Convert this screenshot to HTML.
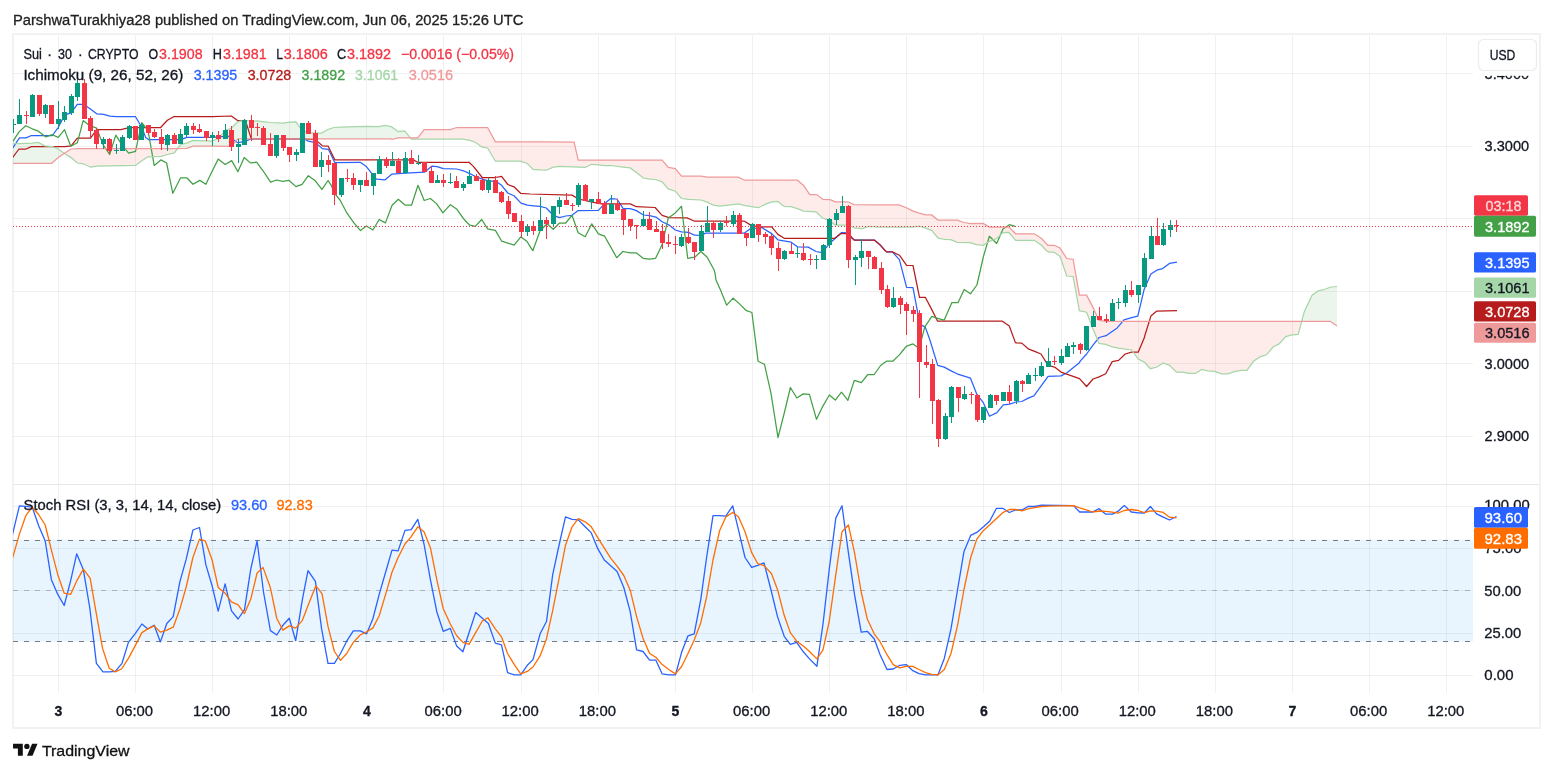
<!DOCTYPE html>
<html lang="en"><head><meta charset="utf-8"><title>Sui chart - TradingView</title>
<style>html,body{margin:0;padding:0;background:#fff}body{width:1553px;height:772px;position:relative;overflow:hidden;font-family:"Liberation Sans",sans-serif}</style></head>
<body>
<svg width="1553" height="772" viewBox="0 0 1553 772" style="position:absolute;left:0;top:0">
<defs><clipPath id="cm"><rect x="13" y="35" width="1460" height="449"/></clipPath><clipPath id="cs"><rect x="13" y="485" width="1460" height="208"/></clipPath></defs>
<rect x="13" y="34" width="1527" height="694" fill="#fff" stroke="#f2f2f2" stroke-width="2"/>
<path d="M58.5,35V693 M135.5,35V693 M212.5,35V693 M289.5,35V693 M366.5,35V693 M443.5,35V693 M521.5,35V693 M598.5,35V693 M675.5,35V693 M752.5,35V693 M829.5,35V693 M906.5,35V693 M983.5,35V693 M1061.5,35V693 M1138.5,35V693 M1215.5,35V693 M1292.5,35V693 M1369.5,35V693 M1446.5,35V693" stroke="rgba(20,20,20,0.058)" stroke-width="1" fill="none" shape-rendering="crispEdges"/>
<path d="M13,73.5H1473 M13,146.5H1473 M13,218.5H1473 M13,291.5H1473 M13,363.5H1473 M13,436.5H1473 M13,506.5H1473 M13,548.5H1473 M13,590.5H1473 M13,633.5H1473 M13,675.5H1473" stroke="rgba(20,20,20,0.058)" stroke-width="1" fill="none" shape-rendering="crispEdges"/>
<rect x="14" y="484" width="1525" height="1" fill="#e6e6e6"/>
<g clip-path="url(#cm)">
<path d="M12.0,143.6 L13.0,143.6 L14.0,143.6 L15.0,143.6 L16.0,143.6 L17.0,143.6 L18.0,143.6 L19.0,143.6 L20.0,143.6 L21.0,143.5 L22.0,143.5 L23.0,143.5 L24.0,143.4 L25.0,143.4 L26.0,143.4 L27.0,143.3 L28.0,143.3 L29.0,143.2 L30.0,143.2 L31.0,143.2 L32.0,143.1 L33.0,143.0 L34.0,142.9 L35.0,142.8 L36.0,142.7 L37.0,142.5 L38.0,142.4 L39.0,142.7 L40.0,143.3 L41.0,143.8 L42.0,144.4 L43.0,145.0 L44.0,145.6 L45.0,146.0 L46.0,146.1 L47.0,146.2 L48.0,146.3 L49.0,146.4 L50.0,146.5 L51.0,146.6 L52.0,146.7 L53.0,146.9 L54.0,147.3 L55.0,147.7 L56.0,148.1 L57.0,148.5 L58.0,148.9 L59.0,149.5 L60.0,150.2 L61.0,151.0 L62.0,151.7 L63.0,152.4 L64.0,153.1 L64.0,153.5 L63.0,154.2 L62.0,154.9 L61.0,155.7 L60.0,156.4 L59.0,157.1 L58.0,157.9 L57.0,158.7 L56.0,159.6 L55.0,160.4 L54.0,161.3 L53.0,162.2 L52.0,163.0 L51.0,163.3 L50.0,163.3 L49.0,163.3 L48.0,163.3 L47.0,163.3 L46.0,163.3 L45.0,163.3 L44.0,163.3 L43.0,163.3 L42.0,163.3 L41.0,163.3 L40.0,163.3 L39.0,163.3 L38.0,163.3 L37.0,163.3 L36.0,163.3 L35.0,163.3 L34.0,163.3 L33.0,163.3 L32.0,163.3 L31.0,163.3 L30.0,163.3 L29.0,163.3 L28.0,163.3 L27.0,163.3 L26.0,163.3 L25.0,163.3 L24.0,163.3 L23.0,163.3 L22.0,163.3 L21.0,163.3 L20.0,163.3 L19.0,163.3 L18.0,163.3 L17.0,163.3 L16.0,163.3 L15.0,163.3 L14.0,163.3 L13.0,163.3 L12.0,163.3Z" fill="rgba(67,160,71,0.1)" stroke="none"/>
<path d="M64.0,153.1 L65.0,153.8 L66.0,154.4 L67.0,155.1 L68.0,155.7 L69.0,156.3 L70.0,156.9 L71.0,157.6 L72.0,158.4 L73.0,159.3 L74.0,160.2 L75.0,161.0 L76.0,161.9 L77.0,162.8 L78.0,163.1 L79.0,163.2 L80.0,163.4 L81.0,163.5 L82.0,163.6 L83.0,163.7 L84.0,164.1 L85.0,164.5 L86.0,165.0 L87.0,165.5 L88.0,166.0 L89.0,166.5 L90.0,167.0 L91.0,167.1 L92.0,167.0 L93.0,166.8 L94.0,166.6 L95.0,166.4 L96.0,166.3 L97.0,166.1 L98.0,166.1 L99.0,166.1 L100.0,166.1 L101.0,166.0 L102.0,166.0 L103.0,166.0 L104.0,166.0 L105.0,166.0 L106.0,165.9 L107.0,165.9 L108.0,165.9 L109.0,165.9 L110.0,165.9 L111.0,165.8 L112.0,165.8 L113.0,165.8 L114.0,165.8 L115.0,165.8 L116.0,165.7 L117.0,165.7 L118.0,165.7 L119.0,165.7 L120.0,165.7 L121.0,165.6 L122.0,165.6 L123.0,165.6 L124.0,165.6 L125.0,165.6 L126.0,165.5 L127.0,165.5 L128.0,165.5 L129.0,165.5 L130.0,165.5 L131.0,165.4 L132.0,165.4 L133.0,165.4 L134.0,165.4 L135.0,165.4 L136.0,165.0 L137.0,164.3 L138.0,163.5 L139.0,162.8 L140.0,162.0 L141.0,161.3 L142.0,160.5 L143.0,159.9 L144.0,159.3 L145.0,158.7 L146.0,158.0 L147.0,157.4 L148.0,156.8 L149.0,156.8 L150.0,156.7 L151.0,156.7 L152.0,156.7 L153.0,156.6 L154.0,156.6 L155.0,156.6 L156.0,156.5 L157.0,156.5 L158.0,156.5 L159.0,156.4 L160.0,156.4 L161.0,156.3 L162.0,156.1 L163.0,155.8 L164.0,155.5 L165.0,155.2 L166.0,154.9 L167.0,154.6 L168.0,154.3 L169.0,154.1 L170.0,153.9 L171.0,153.7 L172.0,153.5 L173.0,153.2 L174.0,153.0 L175.0,152.1 L176.0,150.7 L177.0,149.3 L177.0,148.6 L176.0,148.6 L175.0,148.7 L174.0,148.7 L173.0,148.7 L172.0,148.7 L171.0,148.7 L170.0,148.7 L169.0,148.7 L168.0,148.7 L167.0,148.7 L166.0,148.7 L165.0,148.7 L164.0,148.7 L163.0,148.7 L162.0,148.7 L161.0,148.7 L160.0,148.7 L159.0,148.7 L158.0,148.7 L157.0,148.7 L156.0,148.7 L155.0,148.7 L154.0,148.7 L153.0,148.7 L152.0,148.7 L151.0,148.7 L150.0,148.7 L149.0,148.7 L148.0,148.7 L147.0,148.7 L146.0,148.7 L145.0,148.7 L144.0,148.7 L143.0,148.7 L142.0,148.7 L141.0,148.7 L140.0,148.7 L139.0,148.7 L138.0,148.7 L137.0,148.7 L136.0,148.7 L135.0,148.7 L134.0,148.7 L133.0,148.7 L132.0,148.7 L131.0,148.7 L130.0,148.7 L129.0,148.7 L128.0,148.7 L127.0,148.7 L126.0,148.7 L125.0,148.7 L124.0,148.7 L123.0,148.7 L122.0,148.7 L121.0,148.7 L120.0,148.7 L119.0,148.7 L118.0,148.7 L117.0,148.7 L116.0,148.7 L115.0,148.7 L114.0,148.7 L113.0,148.7 L112.0,148.7 L111.0,148.7 L110.0,148.7 L109.0,148.7 L108.0,148.7 L107.0,148.7 L106.0,148.7 L105.0,148.7 L104.0,148.7 L103.0,148.7 L102.0,148.7 L101.0,148.7 L100.0,148.7 L99.0,148.7 L98.0,148.7 L97.0,148.7 L96.0,148.7 L95.0,148.7 L94.0,148.7 L93.0,148.7 L92.0,148.7 L91.0,148.7 L90.0,148.7 L89.0,148.7 L88.0,148.7 L87.0,148.7 L86.0,148.7 L85.0,148.7 L84.0,148.7 L83.0,148.7 L82.0,148.7 L81.0,148.7 L80.0,148.7 L79.0,148.7 L78.0,148.7 L77.0,148.7 L76.0,148.8 L75.0,148.8 L74.0,148.9 L73.0,148.9 L72.0,149.0 L71.0,149.1 L70.0,149.7 L69.0,150.3 L68.0,150.9 L67.0,151.6 L66.0,152.2 L65.0,152.8 L64.0,153.5Z" fill="rgba(244,67,54,0.1)" stroke="none"/>
<path d="M177.0,149.3 L178.0,148.0 L179.0,146.6 L180.0,145.2 L181.0,144.3 L182.0,144.1 L183.0,143.9 L184.0,143.7 L185.0,143.5 L186.0,143.3 L187.0,143.1 L188.0,142.6 L189.0,142.2 L190.0,141.8 L191.0,141.4 L192.0,140.9 L193.0,140.5 L194.0,140.5 L195.0,140.6 L196.0,140.6 L197.0,140.6 L198.0,140.7 L199.0,140.7 L200.0,140.7 L201.0,140.8 L202.0,140.8 L203.0,140.9 L204.0,140.9 L205.0,140.9 L206.0,141.0 L207.0,141.0 L208.0,141.0 L209.0,141.1 L210.0,141.1 L211.0,141.1 L212.0,141.2 L213.0,140.7 L214.0,140.3 L215.0,139.8 L216.0,139.4 L217.0,139.0 L218.0,138.5 L219.0,138.1 L220.0,136.8 L221.0,135.6 L222.0,134.3 L223.0,133.1 L224.0,131.8 L225.0,130.6 L226.0,130.0 L227.0,129.7 L228.0,129.4 L229.0,129.1 L230.0,128.7 L231.0,128.4 L232.0,127.7 L233.0,126.6 L234.0,125.6 L235.0,124.5 L236.0,123.5 L237.0,122.4 L238.0,121.7 L239.0,121.5 L240.0,121.2 L241.0,121.0 L242.0,120.8 L243.0,120.6 L244.0,120.3 L245.0,120.3 L246.0,120.5 L247.0,120.6 L248.0,120.8 L249.0,121.0 L250.0,121.2 L251.0,121.4 L252.0,121.4 L253.0,121.3 L254.0,121.2 L255.0,121.2 L256.0,121.1 L257.0,121.0 L258.0,121.0 L259.0,121.2 L260.0,121.3 L261.0,121.4 L262.0,121.5 L263.0,121.6 L264.0,121.7 L265.0,121.9 L266.0,122.0 L267.0,122.1 L268.0,122.2 L269.0,122.4 L270.0,122.5 L271.0,122.6 L272.0,122.6 L273.0,122.6 L274.0,122.7 L275.0,122.7 L276.0,122.7 L277.0,122.8 L278.0,122.8 L279.0,122.9 L280.0,122.9 L281.0,122.9 L282.0,123.0 L283.0,123.0 L284.0,122.9 L285.0,122.7 L286.0,122.6 L287.0,122.5 L288.0,122.4 L289.0,122.3 L290.0,122.2 L291.0,122.1 L292.0,122.0 L293.0,122.0 L294.0,121.9 L295.0,121.8 L296.0,121.9 L297.0,123.3 L298.0,124.6 L299.0,126.0 L300.0,127.4 L301.0,128.8 L302.0,130.1 L303.0,130.6 L304.0,131.0 L305.0,131.4 L306.0,131.8 L307.0,132.1 L308.0,132.5 L309.0,132.7 L310.0,132.7 L311.0,132.8 L312.0,132.9 L313.0,132.9 L314.0,133.0 L315.0,133.1 L316.0,133.1 L317.0,133.1 L318.0,133.1 L319.0,133.1 L320.0,133.1 L321.0,133.1 L322.0,132.8 L323.0,132.3 L324.0,131.7 L325.0,131.1 L326.0,130.5 L327.0,130.0 L328.0,129.5 L329.0,129.1 L330.0,128.8 L331.0,128.5 L332.0,128.2 L333.0,127.8 L334.0,127.5 L335.0,127.5 L336.0,127.4 L337.0,127.4 L338.0,127.3 L339.0,127.3 L340.0,127.2 L341.0,127.2 L342.0,127.1 L343.0,127.1 L344.0,127.1 L345.0,127.1 L346.0,127.0 L347.0,127.0 L348.0,127.0 L349.0,126.9 L350.0,126.9 L351.0,126.9 L352.0,126.8 L353.0,126.8 L354.0,126.8 L355.0,126.8 L356.0,126.7 L357.0,126.7 L358.0,126.7 L359.0,126.6 L360.0,126.6 L361.0,126.6 L362.0,126.6 L363.0,126.5 L364.0,126.5 L365.0,126.5 L366.0,126.4 L367.0,126.4 L368.0,126.4 L369.0,126.4 L370.0,126.4 L371.0,126.5 L372.0,126.5 L373.0,126.5 L374.0,126.5 L375.0,126.5 L376.0,126.5 L377.0,126.5 L378.0,126.5 L379.0,126.5 L380.0,126.3 L381.0,126.2 L382.0,126.0 L383.0,125.8 L384.0,125.6 L385.0,125.5 L386.0,125.6 L387.0,125.8 L388.0,126.0 L389.0,126.2 L390.0,126.4 L391.0,126.6 L392.0,127.2 L393.0,127.9 L394.0,128.6 L395.0,129.3 L396.0,130.0 L397.0,130.7 L398.0,131.5 L399.0,131.6 L400.0,131.4 L401.0,131.3 L402.0,131.2 L403.0,131.1 L404.0,130.9 L405.0,131.5 L406.0,132.7 L407.0,133.8 L408.0,135.0 L409.0,136.2 L410.0,137.4 L410.0,137.9 L409.0,137.9 L408.0,137.9 L407.0,137.9 L406.0,137.9 L405.0,137.9 L404.0,137.9 L403.0,137.9 L402.0,137.9 L401.0,137.9 L400.0,137.9 L399.0,137.9 L398.0,137.9 L397.0,138.2 L396.0,138.4 L395.0,138.7 L394.0,138.9 L393.0,139.2 L392.0,139.4 L391.0,138.9 L390.0,138.9 L389.0,138.9 L388.0,138.9 L387.0,138.9 L386.0,138.9 L385.0,138.9 L384.0,138.9 L383.0,138.9 L382.0,138.9 L381.0,138.9 L380.0,138.9 L379.0,138.9 L378.0,138.9 L377.0,138.9 L376.0,138.9 L375.0,138.9 L374.0,138.9 L373.0,138.9 L372.0,138.9 L371.0,138.9 L370.0,138.9 L369.0,138.9 L368.0,138.9 L367.0,138.9 L366.0,138.9 L365.0,138.9 L364.0,138.9 L363.0,138.9 L362.0,138.9 L361.0,138.9 L360.0,138.9 L359.0,138.9 L358.0,138.9 L357.0,138.9 L356.0,138.9 L355.0,138.9 L354.0,138.9 L353.0,138.9 L352.0,138.9 L351.0,138.9 L350.0,138.9 L349.0,138.9 L348.0,138.9 L347.0,138.9 L346.0,138.9 L345.0,138.9 L344.0,138.9 L343.0,138.9 L342.0,138.9 L341.0,138.9 L340.0,138.9 L339.0,138.9 L338.0,138.9 L337.0,138.9 L336.0,138.9 L335.0,138.9 L334.0,138.9 L333.0,138.9 L332.0,138.9 L331.0,138.9 L330.0,138.9 L329.0,138.9 L328.0,138.9 L327.0,138.9 L326.0,138.9 L325.0,138.9 L324.0,138.9 L323.0,138.9 L322.0,138.9 L321.0,138.9 L320.0,138.9 L319.0,138.9 L318.0,138.9 L317.0,138.9 L316.0,138.9 L315.0,138.9 L314.0,138.9 L313.0,138.9 L312.0,138.9 L311.0,138.9 L310.0,138.9 L309.0,138.9 L308.0,138.9 L307.0,138.9 L306.0,138.9 L305.0,138.9 L304.0,138.9 L303.0,138.9 L302.0,138.9 L301.0,138.9 L300.0,138.9 L299.0,138.9 L298.0,138.9 L297.0,138.9 L296.0,138.9 L295.0,138.9 L294.0,138.9 L293.0,138.9 L292.0,138.9 L291.0,138.9 L290.0,138.9 L289.0,138.9 L288.0,138.9 L287.0,138.9 L286.0,138.9 L285.0,138.9 L284.0,138.9 L283.0,138.9 L282.0,138.9 L281.0,138.9 L280.0,138.9 L279.0,138.9 L278.0,138.9 L277.0,138.9 L276.0,138.9 L275.0,138.9 L274.0,138.9 L273.0,138.9 L272.0,138.9 L271.0,138.9 L270.0,138.9 L269.0,138.9 L268.0,138.9 L267.0,138.9 L266.0,138.9 L265.0,138.9 L264.0,138.9 L263.0,138.9 L262.0,138.9 L261.0,138.9 L260.0,138.9 L259.0,138.9 L258.0,138.9 L257.0,138.9 L256.0,138.9 L255.0,138.9 L254.0,138.9 L253.0,138.9 L252.0,138.9 L251.0,138.9 L250.0,138.9 L249.0,138.9 L248.0,138.9 L247.0,138.9 L246.0,138.9 L245.0,138.9 L244.0,138.9 L243.0,138.9 L242.0,138.9 L241.0,138.9 L240.0,138.9 L239.0,138.9 L238.0,138.9 L237.0,139.9 L236.0,141.1 L235.0,142.2 L234.0,143.4 L233.0,144.5 L232.0,145.6 L231.0,146.3 L230.0,146.3 L229.0,146.3 L228.0,146.3 L227.0,146.3 L226.0,146.3 L225.0,146.3 L224.0,146.3 L223.0,146.3 L222.0,146.3 L221.0,146.3 L220.0,146.3 L219.0,146.3 L218.0,146.3 L217.0,146.3 L216.0,146.3 L215.0,146.3 L214.0,146.2 L213.0,146.2 L212.0,146.2 L211.0,146.2 L210.0,146.2 L209.0,146.2 L208.0,146.2 L207.0,146.2 L206.0,146.2 L205.0,146.2 L204.0,146.2 L203.0,146.2 L202.0,146.2 L201.0,146.2 L200.0,146.2 L199.0,146.2 L198.0,146.2 L197.0,146.2 L196.0,146.2 L195.0,146.2 L194.0,146.2 L193.0,146.3 L192.0,146.6 L191.0,146.9 L190.0,147.2 L189.0,147.6 L188.0,147.9 L187.0,148.2 L186.0,148.3 L185.0,148.3 L184.0,148.4 L183.0,148.4 L182.0,148.4 L181.0,148.5 L180.0,148.5 L179.0,148.5 L178.0,148.6 L177.0,148.6Z" fill="rgba(67,160,71,0.1)" stroke="none"/>
<path d="M410.0,137.4 L411.0,138.5 L412.0,139.1 L413.0,139.1 L414.0,139.1 L415.0,139.1 L416.0,139.1 L417.0,139.1 L418.0,139.1 L419.0,139.1 L420.0,139.1 L421.0,139.1 L422.0,139.1 L423.0,139.1 L424.0,139.1 L425.0,139.1 L426.0,139.1 L427.0,139.1 L428.0,139.1 L429.0,139.1 L430.0,139.1 L431.0,139.1 L432.0,139.1 L433.0,139.1 L434.0,139.1 L435.0,139.1 L436.0,139.1 L437.0,139.1 L438.0,139.1 L439.0,139.1 L440.0,139.1 L441.0,139.1 L442.0,139.1 L443.0,139.1 L444.0,139.1 L445.0,139.1 L446.0,139.1 L447.0,139.1 L448.0,139.1 L449.0,139.1 L450.0,139.1 L451.0,139.1 L452.0,139.1 L453.0,139.1 L454.0,139.1 L455.0,139.1 L456.0,139.1 L457.0,139.1 L458.0,139.1 L459.0,139.1 L460.0,139.1 L461.0,139.1 L462.0,139.1 L463.0,139.2 L464.0,139.3 L465.0,139.5 L466.0,139.7 L467.0,139.9 L468.0,140.0 L469.0,140.2 L470.0,140.5 L471.0,140.9 L472.0,141.2 L473.0,141.5 L474.0,141.8 L475.0,142.2 L476.0,142.8 L477.0,143.5 L478.0,144.2 L479.0,144.9 L480.0,145.6 L481.0,146.3 L482.0,147.1 L483.0,147.3 L484.0,147.5 L485.0,147.6 L486.0,147.7 L487.0,147.9 L488.0,148.6 L489.0,150.3 L490.0,152.0 L491.0,153.7 L492.0,155.4 L493.0,157.1 L494.0,158.8 L495.0,160.5 L496.0,161.2 L497.0,161.2 L498.0,161.2 L499.0,161.2 L500.0,161.2 L501.0,161.2 L502.0,161.2 L503.0,161.2 L504.0,161.2 L505.0,161.2 L506.0,161.2 L507.0,161.2 L508.0,161.2 L509.0,161.2 L510.0,161.2 L511.0,161.2 L512.0,161.2 L513.0,161.2 L514.0,161.2 L515.0,161.2 L516.0,161.2 L517.0,161.2 L518.0,161.2 L519.0,161.2 L520.0,161.2 L521.0,161.4 L522.0,161.8 L523.0,162.1 L524.0,162.4 L525.0,162.8 L526.0,163.1 L527.0,163.4 L528.0,164.3 L529.0,165.3 L530.0,166.3 L531.0,167.3 L532.0,168.3 L533.0,169.3 L534.0,169.5 L535.0,169.6 L536.0,169.6 L537.0,169.7 L538.0,169.8 L539.0,169.8 L540.0,169.9 L541.0,169.9 L542.0,170.0 L543.0,170.0 L544.0,170.1 L545.0,170.1 L546.0,170.2 L547.0,169.9 L548.0,169.5 L549.0,169.0 L550.0,168.6 L551.0,168.1 L552.0,167.7 L553.0,167.2 L554.0,167.0 L555.0,166.9 L556.0,166.8 L557.0,166.6 L558.0,166.5 L559.0,166.4 L560.0,166.3 L561.0,166.4 L562.0,166.4 L563.0,166.5 L564.0,166.5 L565.0,166.5 L566.0,166.6 L567.0,166.6 L568.0,166.7 L569.0,166.7 L570.0,166.8 L571.0,166.8 L572.0,166.8 L573.0,166.9 L574.0,166.9 L575.0,167.0 L576.0,167.0 L577.0,167.1 L578.0,167.1 L579.0,167.1 L580.0,167.2 L581.0,167.2 L582.0,167.3 L583.0,167.3 L584.0,167.4 L585.0,167.4 L586.0,167.0 L587.0,166.6 L588.0,166.1 L589.0,165.6 L590.0,165.2 L591.0,164.7 L592.0,164.3 L593.0,164.4 L594.0,164.5 L595.0,164.5 L596.0,164.6 L597.0,164.7 L598.0,164.7 L599.0,164.8 L600.0,165.0 L601.0,165.1 L602.0,165.2 L603.0,165.3 L604.0,165.5 L605.0,165.5 L606.0,165.5 L607.0,165.5 L608.0,165.5 L609.0,165.5 L610.0,165.5 L611.0,165.6 L612.0,165.7 L613.0,165.8 L614.0,165.9 L615.0,166.1 L616.0,166.2 L617.0,166.3 L618.0,166.4 L619.0,166.6 L620.0,166.7 L621.0,166.8 L622.0,166.9 L623.0,167.1 L624.0,167.2 L625.0,167.3 L626.0,167.4 L627.0,167.5 L628.0,167.6 L629.0,167.7 L630.0,167.8 L631.0,168.4 L632.0,169.2 L633.0,169.9 L634.0,170.7 L635.0,171.4 L636.0,172.2 L637.0,173.0 L638.0,173.7 L639.0,174.5 L640.0,175.3 L641.0,176.1 L642.0,176.9 L643.0,177.6 L644.0,178.1 L645.0,178.3 L646.0,178.5 L647.0,178.7 L648.0,178.9 L649.0,179.1 L650.0,179.2 L651.0,179.3 L652.0,179.3 L653.0,179.4 L654.0,179.4 L655.0,179.5 L656.0,179.6 L657.0,179.9 L658.0,180.3 L659.0,180.7 L660.0,181.1 L661.0,181.4 L662.0,181.8 L663.0,182.9 L664.0,184.0 L665.0,185.1 L666.0,186.3 L667.0,187.4 L668.0,188.5 L669.0,189.1 L670.0,189.4 L671.0,189.7 L672.0,190.1 L673.0,190.4 L674.0,190.7 L675.0,191.1 L676.0,192.0 L677.0,193.2 L678.0,194.4 L679.0,195.5 L680.0,196.7 L681.0,197.9 L682.0,198.5 L683.0,198.7 L684.0,198.8 L685.0,198.9 L686.0,199.1 L687.0,199.2 L688.0,199.3 L689.0,199.4 L690.0,199.5 L691.0,199.5 L692.0,199.6 L693.0,199.6 L694.0,199.7 L695.0,199.7 L696.0,199.8 L697.0,199.8 L698.0,199.9 L699.0,199.9 L700.0,200.0 L701.0,200.1 L702.0,200.4 L703.0,200.7 L704.0,201.0 L705.0,201.4 L706.0,201.7 L707.0,202.0 L708.0,202.5 L709.0,203.0 L710.0,203.5 L711.0,204.0 L712.0,204.5 L713.0,205.0 L714.0,205.3 L715.0,205.4 L716.0,205.6 L717.0,205.7 L718.0,205.9 L719.0,206.0 L720.0,206.1 L721.0,205.9 L722.0,205.8 L723.0,205.7 L724.0,205.6 L725.0,205.4 L726.0,205.3 L727.0,205.2 L728.0,205.1 L729.0,204.9 L730.0,204.8 L731.0,204.7 L732.0,204.6 L733.0,204.4 L734.0,204.3 L735.0,204.2 L736.0,204.1 L737.0,203.9 L738.0,203.8 L739.0,204.0 L740.0,204.2 L741.0,204.5 L742.0,204.8 L743.0,205.0 L744.0,205.3 L745.0,205.6 L746.0,205.8 L747.0,205.9 L748.0,206.1 L749.0,206.3 L750.0,206.5 L751.0,206.6 L752.0,206.8 L753.0,206.9 L754.0,207.1 L755.0,207.2 L756.0,207.3 L757.0,207.5 L758.0,207.6 L759.0,207.4 L760.0,206.9 L761.0,206.4 L762.0,205.9 L763.0,205.4 L764.0,204.9 L765.0,204.3 L766.0,203.9 L767.0,203.5 L768.0,203.2 L769.0,202.8 L770.0,202.4 L771.0,202.0 L772.0,201.7 L773.0,201.7 L774.0,201.6 L775.0,201.6 L776.0,201.5 L777.0,201.5 L778.0,201.5 L779.0,202.3 L780.0,203.1 L781.0,203.9 L782.0,204.7 L783.0,205.5 L784.0,206.3 L785.0,206.5 L786.0,206.5 L787.0,206.5 L788.0,206.6 L789.0,206.6 L790.0,206.7 L791.0,206.7 L792.0,207.0 L793.0,207.3 L794.0,207.7 L795.0,208.0 L796.0,208.3 L797.0,208.6 L798.0,209.0 L799.0,209.4 L800.0,209.7 L801.0,210.1 L802.0,210.5 L803.0,210.9 L804.0,211.1 L805.0,211.2 L806.0,211.2 L807.0,211.3 L808.0,211.4 L809.0,211.4 L810.0,211.5 L811.0,211.5 L812.0,211.6 L813.0,211.7 L814.0,211.7 L815.0,211.8 L816.0,211.9 L817.0,212.8 L818.0,213.7 L819.0,214.7 L820.0,215.6 L821.0,216.6 L822.0,217.5 L823.0,218.1 L824.0,218.4 L825.0,218.8 L826.0,219.2 L827.0,219.6 L828.0,219.9 L829.0,220.3 L830.0,221.0 L831.0,221.7 L832.0,222.5 L833.0,223.2 L834.0,224.0 L835.0,224.7 L836.0,225.1 L837.0,225.1 L838.0,225.1 L839.0,225.1 L840.0,225.1 L841.0,225.1 L842.0,225.1 L843.0,225.1 L844.0,225.1 L845.0,225.1 L846.0,225.1 L847.0,225.1 L848.0,225.1 L849.0,225.2 L850.0,225.7 L851.0,226.2 L852.0,226.7 L853.0,227.2 L854.0,227.7 L855.0,228.2 L856.0,228.2 L857.0,228.3 L858.0,228.3 L859.0,228.3 L860.0,228.4 L861.0,228.4 L862.0,228.5 L863.0,228.4 L864.0,228.0 L865.0,227.7 L866.0,227.3 L867.0,227.0 L868.0,226.6 L869.0,226.3 L870.0,226.4 L871.0,226.5 L872.0,226.5 L873.0,226.6 L874.0,226.7 L875.0,226.8 L876.0,226.8 L877.0,226.9 L878.0,227.0 L879.0,227.1 L880.0,227.1 L881.0,227.1 L882.0,227.1 L883.0,227.1 L884.0,227.1 L885.0,227.1 L886.0,227.1 L887.0,227.1 L888.0,227.1 L889.0,227.1 L890.0,227.1 L891.0,227.1 L892.0,227.1 L893.0,227.1 L894.0,227.1 L895.0,227.1 L896.0,227.1 L897.0,227.1 L898.0,227.1 L899.0,227.1 L900.0,227.1 L901.0,227.1 L902.0,227.1 L903.0,227.1 L904.0,227.1 L905.0,227.1 L906.0,227.1 L907.0,227.1 L908.0,227.1 L909.0,227.1 L910.0,227.1 L911.0,227.1 L912.0,227.1 L913.0,227.1 L914.0,226.9 L915.0,226.8 L916.0,226.6 L917.0,226.5 L918.0,226.3 L919.0,226.2 L920.0,226.4 L921.0,226.7 L922.0,227.0 L923.0,227.3 L924.0,227.6 L925.0,227.9 L926.0,228.3 L927.0,228.7 L928.0,229.0 L929.0,229.4 L930.0,229.8 L931.0,230.2 L932.0,230.8 L933.0,232.0 L934.0,233.2 L935.0,234.4 L936.0,235.7 L937.0,236.9 L938.0,238.0 L939.0,238.2 L940.0,238.4 L941.0,238.7 L942.0,238.9 L943.0,239.1 L944.0,239.4 L945.0,239.5 L946.0,239.6 L947.0,239.6 L948.0,239.6 L949.0,239.7 L950.0,239.7 L951.0,239.8 L952.0,240.2 L953.0,240.6 L954.0,241.0 L955.0,241.4 L956.0,241.8 L957.0,242.2 L958.0,242.3 L959.0,242.3 L960.0,242.4 L961.0,242.4 L962.0,242.4 L963.0,242.4 L964.0,242.5 L965.0,242.5 L966.0,242.5 L967.0,242.5 L968.0,242.6 L969.0,242.6 L970.0,242.6 L971.0,242.9 L972.0,243.2 L973.0,243.5 L974.0,243.9 L975.0,244.2 L976.0,244.5 L977.0,244.7 L978.0,244.8 L979.0,244.9 L980.0,245.0 L981.0,245.1 L982.0,245.2 L983.0,245.3 L984.0,244.7 L985.0,244.1 L986.0,243.5 L987.0,242.8 L988.0,242.2 L989.0,241.5 L990.0,241.0 L991.0,240.7 L992.0,240.3 L993.0,239.9 L994.0,239.5 L995.0,239.2 L996.0,238.8 L997.0,238.2 L998.0,237.3 L999.0,236.4 L1000.0,235.5 L1001.0,234.5 L1002.0,233.6 L1003.0,232.7 L1004.0,232.6 L1005.0,232.6 L1006.0,232.5 L1007.0,232.5 L1008.0,232.5 L1009.0,232.5 L1010.0,233.7 L1011.0,234.9 L1012.0,236.0 L1013.0,237.2 L1014.0,238.3 L1015.0,239.5 L1016.0,240.3 L1017.0,240.3 L1018.0,240.3 L1019.0,240.3 L1020.0,240.3 L1021.0,240.3 L1022.0,240.3 L1023.0,240.3 L1024.0,240.3 L1025.0,240.3 L1026.0,240.3 L1027.0,240.3 L1028.0,240.3 L1029.0,240.3 L1030.0,240.3 L1031.0,240.3 L1032.0,240.3 L1033.0,240.3 L1034.0,240.3 L1035.0,240.8 L1036.0,241.5 L1037.0,242.2 L1038.0,242.9 L1039.0,243.6 L1040.0,244.3 L1041.0,244.9 L1042.0,245.8 L1043.0,246.9 L1044.0,248.0 L1045.0,249.1 L1046.0,250.1 L1047.0,250.9 L1048.0,251.6 L1049.0,252.0 L1050.0,252.1 L1051.0,252.1 L1052.0,252.2 L1053.0,252.3 L1054.0,252.3 L1055.0,252.9 L1056.0,253.6 L1057.0,254.3 L1058.0,255.0 L1059.0,255.7 L1060.0,256.3 L1061.0,259.3 L1062.0,262.2 L1063.0,265.1 L1064.0,268.0 L1065.0,271.0 L1066.0,273.9 L1067.0,276.1 L1068.0,276.1 L1069.0,276.2 L1070.0,276.3 L1071.0,276.4 L1072.0,276.5 L1073.0,276.5 L1074.0,281.3 L1075.0,286.8 L1076.0,292.3 L1077.0,297.8 L1078.0,303.3 L1079.0,308.7 L1080.0,310.9 L1081.0,311.1 L1082.0,311.3 L1083.0,311.5 L1084.0,311.7 L1085.0,311.9 L1086.0,312.1 L1087.0,313.3 L1088.0,315.9 L1089.0,318.5 L1090.0,321.1 L1091.0,323.8 L1092.0,326.4 L1093.0,329.0 L1094.0,331.4 L1095.0,333.7 L1096.0,336.0 L1097.0,338.4 L1098.0,340.7 L1099.0,343.1 L1100.0,343.5 L1101.0,343.7 L1102.0,343.8 L1103.0,344.0 L1104.0,344.1 L1105.0,344.3 L1106.0,344.5 L1107.0,344.9 L1108.0,345.3 L1109.0,345.6 L1110.0,346.0 L1111.0,346.4 L1112.0,346.8 L1113.0,347.0 L1114.0,347.2 L1115.0,347.5 L1116.0,347.7 L1117.0,347.9 L1118.0,348.1 L1119.0,348.3 L1120.0,348.4 L1121.0,348.6 L1122.0,348.7 L1123.0,348.8 L1124.0,349.0 L1125.0,349.1 L1126.0,349.2 L1127.0,349.4 L1128.0,349.5 L1129.0,349.6 L1130.0,349.8 L1131.0,349.9 L1132.0,350.5 L1133.0,351.8 L1134.0,353.2 L1135.0,354.6 L1136.0,355.9 L1137.0,357.3 L1138.0,358.7 L1139.0,359.4 L1140.0,359.9 L1141.0,360.4 L1142.0,360.9 L1143.0,361.5 L1144.0,362.0 L1145.0,362.9 L1146.0,364.0 L1147.0,365.0 L1148.0,366.1 L1149.0,367.2 L1150.0,368.3 L1151.0,368.6 L1152.0,368.3 L1153.0,368.1 L1154.0,367.8 L1155.0,367.5 L1156.0,367.3 L1157.0,367.0 L1158.0,366.4 L1159.0,365.7 L1160.0,365.0 L1161.0,364.4 L1162.0,363.7 L1163.0,363.1 L1164.0,363.3 L1165.0,363.7 L1166.0,364.0 L1167.0,364.4 L1168.0,364.7 L1169.0,365.1 L1170.0,365.7 L1171.0,366.7 L1172.0,367.7 L1173.0,368.7 L1174.0,369.7 L1175.0,370.7 L1176.0,371.7 L1177.0,372.2 L1178.0,372.2 L1179.0,372.2 L1180.0,372.2 L1181.0,372.2 L1182.0,372.2 L1183.0,372.3 L1184.0,372.5 L1185.0,372.7 L1186.0,372.9 L1187.0,373.0 L1188.0,373.2 L1189.0,373.4 L1190.0,373.4 L1191.0,373.4 L1192.0,373.4 L1193.0,373.4 L1194.0,373.4 L1195.0,373.4 L1196.0,373.2 L1197.0,372.5 L1198.0,371.9 L1199.0,371.2 L1200.0,370.6 L1201.0,369.9 L1202.0,369.5 L1203.0,369.7 L1204.0,370.0 L1205.0,370.2 L1206.0,370.4 L1207.0,370.7 L1208.0,370.9 L1209.0,370.9 L1210.0,371.0 L1211.0,371.1 L1212.0,371.2 L1213.0,371.2 L1214.0,371.3 L1215.0,371.4 L1216.0,371.8 L1217.0,372.1 L1218.0,372.5 L1219.0,372.8 L1220.0,373.2 L1221.0,373.5 L1222.0,373.8 L1223.0,373.8 L1224.0,373.8 L1225.0,373.8 L1226.0,373.8 L1227.0,373.8 L1228.0,373.7 L1229.0,373.4 L1230.0,373.1 L1231.0,372.8 L1232.0,372.5 L1233.0,372.1 L1234.0,371.8 L1235.0,371.6 L1236.0,371.4 L1237.0,371.1 L1238.0,370.9 L1239.0,370.7 L1240.0,370.5 L1241.0,370.3 L1242.0,370.3 L1243.0,370.3 L1244.0,370.3 L1245.0,370.3 L1246.0,370.3 L1247.0,370.2 L1248.0,368.8 L1249.0,367.4 L1250.0,366.1 L1251.0,364.7 L1252.0,363.3 L1253.0,362.0 L1254.0,360.9 L1255.0,360.3 L1256.0,359.6 L1257.0,358.9 L1258.0,358.2 L1259.0,357.6 L1260.0,356.9 L1261.0,356.6 L1262.0,356.3 L1263.0,356.0 L1264.0,355.6 L1265.0,355.3 L1266.0,355.0 L1267.0,354.3 L1268.0,353.1 L1269.0,351.9 L1270.0,350.6 L1271.0,349.4 L1272.0,348.2 L1273.0,347.0 L1274.0,346.5 L1275.0,346.0 L1276.0,345.5 L1277.0,344.9 L1278.0,344.4 L1279.0,343.9 L1280.0,342.8 L1281.0,341.7 L1282.0,340.6 L1283.0,339.5 L1284.0,338.4 L1285.0,337.3 L1286.0,336.5 L1287.0,336.2 L1288.0,336.0 L1289.0,335.7 L1290.0,335.4 L1291.0,335.1 L1292.0,334.9 L1293.0,334.8 L1294.0,334.7 L1295.0,334.6 L1296.0,334.5 L1297.0,334.4 L1298.0,334.3 L1299.0,331.3 L1300.0,327.6 L1301.0,323.9 L1301.0,321.3 L1300.0,321.3 L1299.0,321.3 L1298.0,321.3 L1297.0,321.3 L1296.0,321.3 L1295.0,321.3 L1294.0,321.3 L1293.0,321.3 L1292.0,321.3 L1291.0,321.3 L1290.0,321.3 L1289.0,321.3 L1288.0,321.3 L1287.0,321.3 L1286.0,321.3 L1285.0,321.3 L1284.0,321.3 L1283.0,321.3 L1282.0,321.3 L1281.0,321.3 L1280.0,321.3 L1279.0,321.3 L1278.0,321.3 L1277.0,321.3 L1276.0,321.3 L1275.0,321.3 L1274.0,321.3 L1273.0,321.3 L1272.0,321.3 L1271.0,321.3 L1270.0,321.3 L1269.0,321.3 L1268.0,321.3 L1267.0,321.3 L1266.0,321.3 L1265.0,321.3 L1264.0,321.3 L1263.0,321.3 L1262.0,321.3 L1261.0,321.3 L1260.0,321.3 L1259.0,321.3 L1258.0,321.3 L1257.0,321.3 L1256.0,321.3 L1255.0,321.3 L1254.0,321.3 L1253.0,321.3 L1252.0,321.3 L1251.0,321.3 L1250.0,321.3 L1249.0,321.3 L1248.0,321.3 L1247.0,321.3 L1246.0,321.3 L1245.0,321.3 L1244.0,321.3 L1243.0,321.3 L1242.0,321.3 L1241.0,321.3 L1240.0,321.3 L1239.0,321.3 L1238.0,321.3 L1237.0,321.3 L1236.0,321.3 L1235.0,321.3 L1234.0,321.3 L1233.0,321.3 L1232.0,321.3 L1231.0,321.3 L1230.0,321.3 L1229.0,321.3 L1228.0,321.3 L1227.0,321.3 L1226.0,321.3 L1225.0,321.3 L1224.0,321.3 L1223.0,321.3 L1222.0,321.3 L1221.0,321.3 L1220.0,321.3 L1219.0,321.3 L1218.0,321.3 L1217.0,321.3 L1216.0,321.3 L1215.0,321.3 L1214.0,321.3 L1213.0,321.3 L1212.0,321.3 L1211.0,321.3 L1210.0,321.3 L1209.0,321.3 L1208.0,321.3 L1207.0,321.3 L1206.0,321.3 L1205.0,321.3 L1204.0,321.3 L1203.0,321.3 L1202.0,321.3 L1201.0,321.3 L1200.0,321.3 L1199.0,321.3 L1198.0,321.3 L1197.0,321.3 L1196.0,321.3 L1195.0,321.3 L1194.0,321.3 L1193.0,321.3 L1192.0,321.3 L1191.0,321.3 L1190.0,321.3 L1189.0,321.3 L1188.0,321.3 L1187.0,321.3 L1186.0,321.3 L1185.0,321.3 L1184.0,321.3 L1183.0,321.3 L1182.0,321.3 L1181.0,321.3 L1180.0,321.3 L1179.0,321.3 L1178.0,321.3 L1177.0,321.3 L1176.0,321.3 L1175.0,321.3 L1174.0,321.3 L1173.0,321.3 L1172.0,321.3 L1171.0,321.3 L1170.0,321.3 L1169.0,321.3 L1168.0,321.3 L1167.0,321.3 L1166.0,321.3 L1165.0,321.3 L1164.0,321.3 L1163.0,321.3 L1162.0,321.3 L1161.0,321.3 L1160.0,321.3 L1159.0,321.3 L1158.0,321.3 L1157.0,321.3 L1156.0,321.3 L1155.0,321.3 L1154.0,321.3 L1153.0,321.3 L1152.0,321.3 L1151.0,321.3 L1150.0,321.3 L1149.0,321.3 L1148.0,321.3 L1147.0,321.3 L1146.0,321.3 L1145.0,321.3 L1144.0,321.3 L1143.0,321.3 L1142.0,321.3 L1141.0,321.3 L1140.0,321.3 L1139.0,321.3 L1138.0,321.3 L1137.0,321.3 L1136.0,321.3 L1135.0,321.3 L1134.0,321.3 L1133.0,321.3 L1132.0,321.3 L1131.0,321.3 L1130.0,321.3 L1129.0,321.3 L1128.0,321.3 L1127.0,321.3 L1126.0,321.3 L1125.0,321.3 L1124.0,321.3 L1123.0,321.3 L1122.0,321.3 L1121.0,321.3 L1120.0,321.3 L1119.0,321.3 L1118.0,321.3 L1117.0,321.3 L1116.0,321.3 L1115.0,321.3 L1114.0,321.3 L1113.0,321.3 L1112.0,321.3 L1111.0,321.3 L1110.0,321.3 L1109.0,321.3 L1108.0,321.3 L1107.0,321.3 L1106.0,321.3 L1105.0,321.2 L1104.0,321.0 L1103.0,320.9 L1102.0,320.8 L1101.0,320.7 L1100.0,320.5 L1099.0,320.2 L1098.0,318.2 L1097.0,316.1 L1096.0,313.9 L1095.0,311.7 L1094.0,309.5 L1093.0,307.3 L1092.0,305.4 L1091.0,303.5 L1090.0,301.6 L1089.0,299.7 L1088.0,297.8 L1087.0,296.0 L1086.0,295.2 L1085.0,295.2 L1084.0,295.2 L1083.0,295.2 L1082.0,295.2 L1081.0,295.2 L1080.0,295.2 L1079.0,293.0 L1078.0,287.2 L1077.0,281.5 L1076.0,275.7 L1075.0,270.0 L1074.0,264.2 L1073.0,259.2 L1072.0,259.1 L1071.0,259.0 L1070.0,258.9 L1069.0,258.8 L1068.0,258.7 L1067.0,258.6 L1066.0,257.4 L1065.0,255.8 L1064.0,254.2 L1063.0,252.7 L1062.0,251.1 L1061.0,249.5 L1060.0,247.9 L1059.0,247.5 L1058.0,247.0 L1057.0,246.6 L1056.0,246.1 L1055.0,245.7 L1054.0,245.3 L1053.0,245.3 L1052.0,245.3 L1051.0,245.3 L1050.0,245.3 L1049.0,245.3 L1048.0,245.3 L1047.0,244.4 L1046.0,243.3 L1045.0,242.2 L1044.0,241.1 L1043.0,240.1 L1042.0,239.0 L1041.0,238.2 L1040.0,237.5 L1039.0,236.9 L1038.0,236.2 L1037.0,235.6 L1036.0,234.9 L1035.0,234.3 L1034.0,233.8 L1033.0,233.8 L1032.0,233.8 L1031.0,233.8 L1030.0,233.8 L1029.0,233.8 L1028.0,233.8 L1027.0,233.8 L1026.0,233.8 L1025.0,233.8 L1024.0,233.8 L1023.0,233.8 L1022.0,233.8 L1021.0,233.8 L1020.0,233.8 L1019.0,233.8 L1018.0,233.8 L1017.0,233.8 L1016.0,233.8 L1015.0,233.1 L1014.0,232.1 L1013.0,231.1 L1012.0,230.1 L1011.0,229.1 L1010.0,228.1 L1009.0,227.1 L1008.0,227.0 L1007.0,227.0 L1006.0,227.0 L1005.0,227.0 L1004.0,227.0 L1003.0,227.0 L1002.0,227.0 L1001.0,227.0 L1000.0,227.0 L999.0,227.0 L998.0,227.0 L997.0,227.0 L996.0,227.0 L995.0,227.0 L994.0,227.0 L993.0,227.0 L992.0,227.0 L991.0,227.0 L990.0,227.0 L989.0,226.8 L988.0,226.2 L987.0,225.6 L986.0,225.1 L985.0,224.5 L984.0,223.9 L983.0,223.4 L982.0,223.4 L981.0,223.4 L980.0,223.4 L979.0,223.4 L978.0,223.5 L977.0,223.5 L976.0,223.5 L975.0,223.5 L974.0,223.5 L973.0,223.5 L972.0,223.5 L971.0,223.6 L970.0,223.5 L969.0,223.4 L968.0,223.2 L967.0,223.0 L966.0,222.8 L965.0,222.7 L964.0,222.5 L963.0,222.2 L962.0,221.8 L961.0,221.4 L960.0,221.1 L959.0,220.7 L958.0,220.4 L957.0,220.1 L956.0,220.1 L955.0,220.1 L954.0,220.1 L953.0,220.1 L952.0,220.1 L951.0,220.1 L950.0,220.1 L949.0,220.1 L948.0,220.1 L947.0,220.1 L946.0,220.1 L945.0,220.1 L944.0,220.1 L943.0,220.1 L942.0,220.1 L941.0,220.1 L940.0,220.1 L939.0,220.1 L938.0,220.1 L937.0,219.4 L936.0,218.5 L935.0,217.7 L934.0,216.8 L933.0,216.0 L932.0,215.1 L931.0,214.9 L930.0,214.9 L929.0,214.9 L928.0,214.9 L927.0,214.9 L926.0,214.9 L925.0,214.7 L924.0,214.4 L923.0,214.2 L922.0,213.9 L921.0,213.6 L920.0,213.3 L919.0,213.0 L918.0,212.7 L917.0,212.4 L916.0,212.1 L915.0,211.8 L914.0,211.4 L913.0,211.1 L912.0,210.6 L911.0,210.1 L910.0,209.6 L909.0,209.1 L908.0,208.5 L907.0,208.0 L906.0,207.6 L905.0,207.2 L904.0,206.8 L903.0,206.4 L902.0,206.0 L901.0,205.7 L900.0,205.3 L899.0,204.9 L898.0,204.9 L897.0,204.9 L896.0,204.9 L895.0,204.9 L894.0,204.9 L893.0,204.9 L892.0,204.9 L891.0,204.9 L890.0,204.9 L889.0,204.9 L888.0,204.9 L887.0,204.9 L886.0,204.9 L885.0,204.9 L884.0,204.9 L883.0,204.9 L882.0,204.9 L881.0,204.9 L880.0,204.9 L879.0,204.9 L878.0,204.9 L877.0,204.9 L876.0,204.9 L875.0,204.8 L874.0,204.8 L873.0,204.8 L872.0,204.8 L871.0,204.8 L870.0,204.8 L869.0,204.8 L868.0,204.7 L867.0,204.7 L866.0,204.7 L865.0,204.7 L864.0,204.7 L863.0,204.7 L862.0,204.7 L861.0,204.7 L860.0,204.6 L859.0,204.6 L858.0,204.6 L857.0,204.6 L856.0,204.6 L855.0,204.6 L854.0,204.5 L853.0,204.1 L852.0,203.6 L851.0,203.2 L850.0,202.7 L849.0,202.3 L848.0,201.8 L847.0,201.8 L846.0,201.8 L845.0,201.8 L844.0,201.8 L843.0,201.8 L842.0,201.8 L841.0,201.8 L840.0,201.8 L839.0,201.8 L838.0,201.8 L837.0,201.8 L836.0,201.8 L835.0,201.6 L834.0,201.2 L833.0,200.9 L832.0,200.5 L831.0,200.1 L830.0,199.7 L829.0,199.7 L828.0,199.6 L827.0,199.6 L826.0,199.6 L825.0,199.5 L824.0,199.5 L823.0,199.4 L822.0,198.6 L821.0,197.8 L820.0,197.0 L819.0,196.2 L818.0,195.4 L817.0,194.6 L816.0,194.5 L815.0,194.5 L814.0,194.5 L813.0,194.5 L812.0,194.5 L811.0,194.5 L810.0,194.5 L809.0,193.3 L808.0,191.9 L807.0,190.4 L806.0,189.0 L805.0,187.5 L804.0,186.1 L803.0,184.9 L802.0,184.1 L801.0,183.2 L800.0,182.4 L799.0,181.5 L798.0,180.7 L797.0,180.2 L796.0,180.2 L795.0,180.2 L794.0,180.2 L793.0,180.2 L792.0,180.2 L791.0,180.2 L790.0,180.2 L789.0,180.2 L788.0,180.2 L787.0,180.2 L786.0,180.2 L785.0,180.2 L784.0,180.2 L783.0,180.2 L782.0,180.2 L781.0,180.2 L780.0,180.2 L779.0,180.2 L778.0,180.2 L777.0,180.2 L776.0,180.2 L775.0,180.2 L774.0,180.2 L773.0,180.2 L772.0,180.2 L771.0,180.2 L770.0,180.2 L769.0,180.2 L768.0,180.2 L767.0,180.2 L766.0,180.2 L765.0,180.2 L764.0,180.2 L763.0,180.2 L762.0,180.2 L761.0,180.2 L760.0,180.2 L759.0,180.2 L758.0,180.2 L757.0,180.2 L756.0,180.2 L755.0,180.2 L754.0,180.2 L753.0,180.2 L752.0,180.2 L751.0,180.2 L750.0,180.2 L749.0,180.2 L748.0,180.2 L747.0,180.2 L746.0,180.2 L745.0,180.2 L744.0,179.9 L743.0,179.4 L742.0,179.0 L741.0,178.5 L740.0,178.0 L739.0,177.5 L738.0,177.2 L737.0,177.2 L736.0,177.2 L735.0,177.2 L734.0,177.2 L733.0,177.2 L732.0,177.2 L731.0,177.2 L730.0,177.2 L729.0,177.2 L728.0,177.2 L727.0,177.2 L726.0,177.2 L725.0,177.2 L724.0,177.2 L723.0,177.2 L722.0,177.2 L721.0,177.2 L720.0,177.2 L719.0,177.2 L718.0,177.2 L717.0,177.2 L716.0,177.2 L715.0,177.2 L714.0,177.2 L713.0,177.2 L712.0,177.2 L711.0,177.2 L710.0,177.2 L709.0,177.2 L708.0,177.2 L707.0,177.2 L706.0,177.0 L705.0,176.8 L704.0,176.6 L703.0,176.5 L702.0,176.3 L701.0,176.1 L700.0,176.1 L699.0,176.1 L698.0,176.1 L697.0,176.1 L696.0,176.1 L695.0,176.1 L694.0,176.1 L693.0,176.1 L692.0,176.1 L691.0,176.1 L690.0,176.1 L689.0,176.1 L688.0,176.1 L687.0,176.1 L686.0,176.1 L685.0,176.1 L684.0,176.1 L683.0,176.1 L682.0,176.1 L681.0,175.5 L680.0,174.3 L679.0,173.1 L678.0,171.9 L677.0,170.7 L676.0,169.5 L675.0,168.6 L674.0,168.4 L673.0,168.2 L672.0,168.1 L671.0,167.9 L670.0,167.7 L669.0,167.5 L668.0,167.0 L667.0,165.9 L666.0,164.7 L665.0,163.5 L664.0,162.3 L663.0,161.2 L662.0,160.1 L661.0,160.1 L660.0,160.1 L659.0,160.1 L658.0,160.1 L657.0,160.1 L656.0,160.1 L655.0,160.1 L654.0,160.1 L653.0,160.1 L652.0,160.1 L651.0,160.1 L650.0,160.1 L649.0,160.1 L648.0,160.1 L647.0,160.1 L646.0,160.1 L645.0,160.1 L644.0,160.1 L643.0,160.1 L642.0,160.1 L641.0,160.1 L640.0,160.1 L639.0,160.1 L638.0,160.1 L637.0,160.1 L636.0,160.1 L635.0,160.1 L634.0,160.1 L633.0,160.1 L632.0,160.1 L631.0,160.1 L630.0,160.1 L629.0,160.1 L628.0,160.1 L627.0,160.1 L626.0,160.1 L625.0,160.1 L624.0,160.1 L623.0,160.1 L622.0,160.1 L621.0,160.1 L620.0,160.1 L619.0,160.1 L618.0,160.1 L617.0,160.1 L616.0,160.1 L615.0,160.1 L614.0,160.1 L613.0,160.1 L612.0,160.1 L611.0,160.1 L610.0,160.1 L609.0,160.1 L608.0,160.1 L607.0,160.1 L606.0,160.1 L605.0,160.1 L604.0,160.1 L603.0,160.1 L602.0,160.1 L601.0,160.1 L600.0,160.1 L599.0,160.1 L598.0,160.1 L597.0,160.1 L596.0,160.1 L595.0,160.1 L594.0,160.1 L593.0,160.1 L592.0,160.1 L591.0,160.1 L590.0,160.1 L589.0,160.1 L588.0,160.1 L587.0,160.1 L586.0,160.1 L585.0,160.1 L584.0,160.1 L583.0,160.1 L582.0,160.1 L581.0,160.1 L580.0,160.1 L579.0,160.1 L578.0,159.3 L577.0,154.9 L576.0,150.5 L575.0,146.1 L574.0,142.2 L573.0,142.2 L572.0,142.2 L571.0,142.2 L570.0,142.2 L569.0,142.2 L568.0,142.1 L567.0,142.1 L566.0,142.1 L565.0,142.1 L564.0,142.1 L563.0,142.1 L562.0,142.1 L561.0,142.0 L560.0,142.0 L559.0,142.0 L558.0,142.0 L557.0,142.0 L556.0,142.0 L555.0,142.0 L554.0,142.0 L553.0,141.9 L552.0,141.9 L551.0,141.9 L550.0,141.9 L549.0,141.9 L548.0,141.9 L547.0,141.9 L546.0,141.8 L545.0,141.8 L544.0,141.8 L543.0,141.8 L542.0,141.8 L541.0,141.8 L540.0,141.8 L539.0,141.8 L538.0,141.8 L537.0,141.8 L536.0,141.8 L535.0,141.8 L534.0,141.8 L533.0,141.8 L532.0,141.8 L531.0,141.8 L530.0,141.8 L529.0,141.8 L528.0,141.8 L527.0,141.8 L526.0,141.8 L525.0,141.8 L524.0,141.8 L523.0,141.8 L522.0,141.8 L521.0,141.8 L520.0,141.8 L519.0,141.8 L518.0,141.8 L517.0,141.8 L516.0,141.8 L515.0,141.8 L514.0,141.8 L513.0,141.8 L512.0,141.8 L511.0,141.8 L510.0,141.8 L509.0,141.8 L508.0,141.8 L507.0,141.8 L506.0,141.8 L505.0,141.8 L504.0,141.8 L503.0,141.8 L502.0,141.8 L501.0,141.8 L500.0,141.8 L499.0,141.8 L498.0,141.8 L497.0,141.8 L496.0,141.8 L495.0,141.0 L494.0,139.2 L493.0,137.3 L492.0,135.5 L491.0,133.7 L490.0,131.8 L489.0,130.0 L488.0,128.1 L487.0,127.5 L486.0,127.5 L485.0,127.5 L484.0,127.5 L483.0,127.5 L482.0,127.5 L481.0,127.5 L480.0,127.5 L479.0,127.5 L478.0,127.5 L477.0,127.5 L476.0,127.5 L475.0,127.5 L474.0,127.5 L473.0,127.5 L472.0,127.5 L471.0,127.5 L470.0,127.5 L469.0,127.5 L468.0,127.5 L467.0,127.5 L466.0,127.5 L465.0,127.5 L464.0,127.5 L463.0,127.5 L462.0,127.5 L461.0,127.5 L460.0,127.5 L459.0,127.5 L458.0,127.5 L457.0,127.5 L456.0,127.7 L455.0,128.0 L454.0,128.4 L453.0,128.7 L452.0,129.1 L451.0,129.4 L450.0,129.6 L449.0,129.6 L448.0,129.6 L447.0,129.6 L446.0,129.6 L445.0,129.6 L444.0,129.6 L443.0,129.6 L442.0,129.6 L441.0,129.6 L440.0,129.6 L439.0,129.6 L438.0,129.6 L437.0,129.6 L436.0,129.6 L435.0,129.6 L434.0,129.6 L433.0,129.6 L432.0,129.6 L431.0,129.6 L430.0,129.6 L429.0,129.6 L428.0,129.6 L427.0,129.6 L426.0,129.6 L425.0,129.6 L424.0,129.9 L423.0,131.2 L422.0,132.4 L421.0,133.7 L420.0,135.0 L419.0,136.2 L418.0,137.5 L417.0,137.9 L416.0,137.9 L415.0,137.9 L414.0,137.9 L413.0,137.9 L412.0,137.9 L411.0,137.9 L410.0,137.9Z" fill="rgba(244,67,54,0.1)" stroke="none"/>
<path d="M1301.0,323.9 L1302.0,320.2 L1303.0,316.4 L1304.0,312.7 L1305.0,310.2 L1306.0,308.1 L1307.0,306.0 L1308.0,303.8 L1309.0,301.7 L1310.0,299.6 L1311.0,297.5 L1312.0,295.4 L1313.0,294.6 L1314.0,293.8 L1315.0,293.1 L1316.0,292.4 L1317.0,291.7 L1318.0,291.0 L1319.0,290.7 L1320.0,290.4 L1321.0,290.2 L1322.0,290.0 L1323.0,289.8 L1324.0,289.5 L1325.0,289.2 L1326.0,288.8 L1327.0,288.5 L1328.0,288.1 L1329.0,287.7 L1330.0,287.4 L1331.0,287.0 L1332.0,286.9 L1333.0,286.9 L1334.0,286.8 L1335.0,286.7 L1336.0,286.6 L1337.0,286.5 L1337.0,286.5 L1337.0,326.0 L1337.0,326.0 L1336.0,325.3 L1335.0,324.6 L1334.0,323.9 L1333.0,323.2 L1332.0,322.5 L1331.0,321.7 L1330.0,321.3 L1329.0,321.3 L1328.0,321.3 L1327.0,321.3 L1326.0,321.3 L1325.0,321.3 L1324.0,321.3 L1323.0,321.3 L1322.0,321.3 L1321.0,321.3 L1320.0,321.3 L1319.0,321.3 L1318.0,321.3 L1317.0,321.3 L1316.0,321.3 L1315.0,321.3 L1314.0,321.3 L1313.0,321.3 L1312.0,321.3 L1311.0,321.3 L1310.0,321.3 L1309.0,321.3 L1308.0,321.3 L1307.0,321.3 L1306.0,321.3 L1305.0,321.3 L1304.0,321.3 L1303.0,321.3 L1302.0,321.3 L1301.0,321.3Z" fill="rgba(67,160,71,0.1)" stroke="none"/>
<path d="M12.0,149.0 L13.6,146.7 L19.5,137.8 L26.0,137.8 L31.4,135.5 L52.4,135.5 L58.3,127.3 L64.8,114.9 L71.1,112.8 L77.3,104.3 L83.5,104.3 L89.7,108.6 L96.7,113.8 L103.7,114.4 L109.9,116.1 L116.1,116.7 L135.5,116.7 L141.8,127.3 L145.6,137.4 L148.8,139.7 L180.6,139.7 L186.8,137.4 L212.0,137.4 L228.3,136.2 L237.6,142.7 L243.9,141.6 L251.3,138.9 L304.5,138.9 L308.3,141.2 L315.5,142.7 L322.3,148.6 L328.5,149.4 L334.8,162.6 L360.2,162.3 L366.4,166.6 L373.4,175.6 L376.5,179.1 L385.1,179.8 L392.1,174.1 L405.3,173.1 L424.7,172.1 L431.7,166.2 L437.1,166.6 L443.3,168.6 L456.6,169.0 L463.5,170.8 L469.8,173.6 L476.0,176.7 L482.2,179.1 L489.2,181.1 L495.4,181.1 L501.6,185.3 L507.8,193.0 L514.0,195.7 L521.0,203.1 L527.3,205.2 L533.5,205.8 L540.1,206.3 L546.3,208.0 L553.3,215.3 L559.5,217.6 L565.7,216.0 L572.0,215.3 L578.2,210.6 L598.4,210.3 L604.6,203.6 L610.8,198.6 L617.0,199.0 L623.2,208.7 L630.2,208.7 L636.4,210.6 L643.4,215.0 L649.7,215.6 L655.9,217.1 L662.1,221.8 L669.1,225.1 L675.3,230.0 L681.5,231.9 L688.5,232.4 L694.7,235.2 L700.9,235.5 L705.6,233.1 L715.0,233.1 L744.5,233.1 L750.0,229.0 L761.6,227.4 L771.7,233.6 L777.9,239.8 L791.1,242.2 L797.4,246.8 L808.2,247.1 L816.0,251.5 L822.2,252.6 L830.0,242.9 L835.4,238.3 L841.7,232.5 L848.6,232.8 L851.8,238.3 L854.9,240.1 L874.3,240.1 L880.5,245.3 L886.5,251.9 L892.3,251.9 L899.4,259.7 L906.6,287.3 L913.0,287.6 L917.6,312.2 L921.5,325.1 L925.3,327.1 L929.9,340.0 L937.7,365.4 L944.2,367.1 L950.6,370.6 L957.0,373.8 L970.5,378.2 L976.9,394.4 L983.3,402.7 L989.5,416.2 L996.9,412.6 L1003.3,404.8 L1009.7,404.1 L1016.1,402.0 L1021.8,401.5 L1028.2,398.1 L1033.9,395.8 L1048.1,376.3 L1061.0,375.9 L1066.7,373.0 L1073.1,367.8 L1079.5,362.8 L1080.0,361.3 L1086.6,354.0 L1093.0,345.1 L1099.1,337.5 L1106.1,335.7 L1107.1,335.0 L1117.2,327.9 L1124.0,319.8 L1130.7,317.8 L1137.8,316.1 L1144.2,289.2 L1150.9,274.0 L1157.6,269.8 L1162.7,268.6 L1169.4,263.4 L1177.0,262.2" fill="none" stroke="#2962ff" stroke-width="1.25" stroke-linejoin="round"/>
<path d="M12.0,158.4 L19.0,149.0 L26.0,149.0 L31.4,146.7 L64.8,146.7 L71.1,145.9 L77.3,138.2 L90.5,138.2 L96.7,129.6 L120.8,129.6 L129.3,127.7 L160.4,127.7 L167.4,120.3 L173.6,116.7 L212.0,116.7 L231.4,116.0 L237.6,120.5 L245.4,120.5 L251.3,138.9 L304.5,138.9 L315.3,139.6 L322.3,145.8 L328.2,146.2 L334.8,159.8 L405.0,159.8 L413.8,160.1 L417.7,162.3 L469.0,162.3 L473.6,166.6 L482.2,177.5 L495.4,177.5 L501.6,176.3 L507.8,184.5 L514.0,186.8 L520.6,193.3 L530.0,194.0 L572.0,195.1 L578.5,199.0 L592.2,202.1 L601.5,203.9 L630.2,203.9 L636.4,206.7 L655.1,207.5 L662.1,215.3 L669.1,217.6 L687.0,217.9 L694.7,221.2 L715.0,221.2 L744.5,221.2 L750.7,225.1 L758.5,226.9 L771.7,226.9 L777.9,234.4 L784.2,238.3 L834.7,238.3 L840.9,233.6 L848.6,233.6 L854.1,240.1 L874.3,240.1 L880.5,245.3 L884.5,250.0 L886.5,251.9 L892.3,251.9 L899.4,255.2 L906.6,265.3 L913.0,265.5 L919.5,297.3 L925.3,297.3 L931.8,309.6 L937.6,321.2 L1002.4,321.2 L1009.3,326.0 L1015.4,342.6 L1016.1,342.8 L1021.8,343.1 L1028.2,348.8 L1035.3,351.7 L1041.0,354.0 L1048.1,365.4 L1054.6,367.1 L1061.0,372.1 L1066.7,374.2 L1073.1,376.3 L1079.5,378.7 L1080.0,379.2 L1086.6,386.5 L1093.0,379.0 L1099.1,376.9 L1105.7,373.8 L1112.2,361.6 L1118.6,360.4 L1125.2,354.0 L1131.6,352.2 L1138.2,352.2 L1144.3,337.8 L1145.0,335.0 L1150.9,316.1 L1156.8,311.1 L1177.0,310.6" fill="none" stroke="#b71c1c" stroke-width="1.25" stroke-linejoin="round"/>
<path d="M12.0,142.8 L19.0,131.9 L25.7,125.7 L32.2,128.8 L38.4,131.2 L45.9,136.9 L52.1,134.7 L58.3,137.4 L64.5,129.6 L70.7,146.2 L77.3,142.8 L83.2,120.6 L89.7,125.7 L96.7,128.1 L102.9,144.4 L109.6,154.5 L115.8,135.1 L122.6,145.9 L128.6,153.2 L135.5,151.4 L141.8,122.6 L148.0,130.4 L154.2,165.4 L160.9,159.9 L166.6,163.0 L172.8,193.3 L180.6,177.8 L186.8,177.8 L193.0,184.3 L199.7,180.4 L205.9,184.3 L212.0,171.5 L218.2,159.1 L225.2,164.5 L231.7,160.6 L237.9,171.8 L244.2,157.5 L250.4,162.9 L256.6,162.2 L264.1,172.3 L270.6,182.1 L276.5,180.0 L282.7,181.3 L288.9,180.3 L295.9,186.6 L302.1,184.4 L308.3,175.7 L315.3,180.8 L321.9,189.4 L328.1,180.5 L331.7,186.2 L334.4,193.2 L340.0,200.0 L347.0,213.2 L353.7,222.6 L360.5,230.6 L366.4,226.0 L372.9,230.0 L379.2,219.5 L385.4,222.9 L392.1,205.2 L398.3,199.3 L405.3,205.2 L411.5,205.2 L418.0,185.3 L424.2,200.5 L430.4,198.5 L436.7,203.9 L442.9,212.8 L450.3,204.7 L456.6,208.9 L463.5,218.7 L469.8,225.2 L475.2,226.4 L481.7,219.5 L487.6,228.8 L490.0,229.3 L495.4,230.4 L501.7,241.2 L514.1,245.1 L520.8,236.8 L527.0,241.5 L530.0,246.3 L532.8,250.7 L540.1,230.8 L547.1,223.8 L553.3,229.3 L559.5,223.0 L565.7,223.0 L572.0,215.3 L578.2,232.7 L585.2,236.7 L591.8,223.8 L598.4,233.9 L604.6,236.2 L610.8,247.1 L616.7,257.7 L622.9,251.5 L630.2,252.9 L636.4,252.9 L643.1,258.3 L649.3,259.1 L655.6,258.3 L662.1,244.8 L668.3,217.9 L675.3,212.9 L681.5,206.3 L687.7,258.3 L694.7,257.2 L700.9,251.5 L707.2,257.2 L714.1,270.0 L715.0,273.2 L716.0,280.0 L720.3,289.6 L726.7,305.2 L733.1,298.2 L739.5,303.9 L745.9,310.3 L751.9,312.5 L758.1,361.2 L764.5,364.4 L771.0,393.3 L778.0,437.7 L784.4,412.5 L790.4,387.5 L796.8,398.0 L803.2,393.9 L809.4,394.3 L816.5,419.3 L822.9,406.1 L829.3,395.0 L835.3,400.1 L841.5,392.2 L847.9,400.3 L854.3,380.4 L861.4,382.6 L867.8,374.5 L874.2,374.5 L880.6,365.5 L886.4,361.2 L892.8,361.2 L899.8,354.4 L903.3,350.0 L906.6,346.2 L913.0,343.9 L917.6,347.2 L921.5,339.4 L924.7,327.1 L931.8,316.3 L937.6,318.3 L944.1,320.2 L951.9,302.5 L958.1,302.5 L964.2,289.5 L970.4,293.8 L976.9,285.0 L980.4,270.0 L983.5,256.2 L989.4,236.3 L996.7,243.5 L1003.0,229.0 L1009.4,224.7 L1015.1,226.3" fill="none" stroke="#43a047" stroke-width="1.25" stroke-linejoin="round"/>
<path d="M12.0,143.6 L19.0,143.6 L32.2,143.1 L38.4,142.4 L44.6,145.9 L52.4,146.7 L58.3,149.0 L64.8,153.7 L71.1,157.6 L77.3,163.0 L83.5,163.8 L90.5,167.2 L96.7,166.1 L135.5,165.4 L141.8,160.7 L148.0,156.8 L161.2,156.3 L167.4,154.5 L174.4,152.9 L180.6,144.4 L186.8,143.1 L193.0,140.5 L212.0,141.2 L219.0,138.1 L225.2,130.3 L231.4,128.3 L237.6,121.8 L244.6,120.2 L251.3,121.4 L257.5,121.0 L264.1,121.8 L270.3,122.5 L282.7,123.0 L289.7,122.2 L295.9,121.8 L302.1,130.3 L308.3,132.6 L315.3,133.1 L321.6,133.1 L327.8,129.5 L334.0,127.5 L340.2,127.2 L366.6,126.4 L378.9,126.5 L385.1,125.4 L391.3,126.7 L398.3,131.7 L404.5,130.9 L411.5,139.1 L462.8,139.1 L469.0,140.2 L475.2,142.2 L482.2,147.2 L487.6,148.0 L495.4,161.2 L520.3,161.2 L527.3,163.5 L533.1,169.4 L540.1,169.9 L546.3,170.2 L553.3,167.1 L559.5,166.3 L585.2,167.4 L591.8,164.3 L598.4,164.8 L604.6,165.5 L610.8,165.5 L623.2,167.1 L630.2,167.9 L636.4,172.5 L643.4,178.0 L649.7,179.2 L655.9,179.5 L662.1,181.9 L668.3,188.9 L675.3,191.2 L681.5,198.5 L688.5,199.4 L700.9,200.0 L707.2,202.1 L713.4,205.2 L719.7,206.1 L738.3,203.8 L745.3,205.6 L751.5,206.7 L758.5,207.7 L765.5,204.1 L771.7,201.8 L777.9,201.4 L784.2,206.4 L791.1,206.7 L797.4,208.7 L803.6,211.1 L816.0,211.9 L822.2,217.8 L829.2,220.4 L835.4,225.1 L841.7,225.1 L848.6,225.1 L854.9,228.2 L862.6,228.5 L868.8,226.3 L880.0,227.1 L912.6,227.1 L919.2,226.1 L925.5,228.1 L931.7,230.4 L937.9,237.9 L944.5,239.5 L950.7,239.7 L957.3,242.3 L970.1,242.6 L976.3,244.6 L983.1,245.3 L989.4,241.3 L996.7,238.5 L1003.0,232.6 L1008.9,232.5 L1015.7,240.3 L1034.3,240.3 L1041.6,245.3 L1045.8,250.0 L1048.4,251.9 L1054.2,252.3 L1060.0,256.3 L1066.7,276.0 L1073.1,276.5 L1079.4,310.7 L1080.0,310.9 L1086.6,312.2 L1093.0,329.1 L1099.1,343.4 L1105.7,344.4 L1112.2,346.8 L1118.6,348.2 L1131.6,350.0 L1138.2,359.0 L1144.3,362.1 L1150.4,368.7 L1157.0,367.0 L1163.1,363.0 L1169.5,365.3 L1176.5,372.2 L1182.6,372.2 L1189.2,373.4 L1195.6,373.4 L1201.7,369.4 L1207.8,370.8 L1214.7,371.4 L1221.7,373.8 L1227.8,373.8 L1234.4,371.7 L1240.8,370.3 L1246.9,370.3 L1253.5,361.3 L1259.9,356.9 L1266.5,354.8 L1273.0,347.0 L1279.1,343.9 L1285.7,336.6 L1292.1,334.8 L1298.2,334.3 L1304.3,311.7 L1312.1,295.2 L1318.2,290.9 L1324.3,289.5 L1330.9,287.0 L1337.0,286.5" fill="none" stroke="#a5d6a7" stroke-width="1.25"/>
<path d="M12.0,163.3 L51.6,163.3 L58.3,157.6 L64.8,152.9 L71.1,149.0 L77.3,148.7 L173.6,148.7 L186.8,148.3 L193.0,146.2 L212.0,146.2 L231.4,146.3 L237.9,138.9 L391.5,138.9 L392.1,139.4 L398.3,137.9 L417.7,137.9 L424.2,129.6 L450.3,129.6 L456.6,127.5 L487.6,127.5 L495.4,141.8 L540.0,141.8 L574.1,142.2 L578.2,160.1 L662.1,160.1 L668.3,167.4 L675.3,168.6 L681.5,176.1 L700.9,176.1 L707.2,177.2 L730.0,177.2 L738.3,177.2 L744.5,180.2 L797.4,180.2 L803.6,185.4 L809.8,194.5 L816.8,194.5 L823.0,199.4 L830.0,199.7 L835.4,201.8 L847.9,201.8 L854.1,204.6 L880.0,204.9 L899.0,204.9 L906.4,207.7 L913.0,211.1 L919.2,213.1 L925.5,214.9 L931.7,214.9 L937.9,220.1 L957.3,220.1 L963.9,222.5 L970.1,223.6 L983.1,223.4 L989.4,227.0 L1008.9,227.0 L1015.7,233.8 L1034.3,233.8 L1041.6,238.5 L1047.9,245.3 L1054.3,245.3 L1060.0,247.9 L1066.7,258.5 L1073.1,259.2 L1079.4,295.1 L1080.0,295.2 L1086.6,295.2 L1093.0,307.4 L1097.4,316.9 L1099.1,320.4 L1106.1,321.3 L1330.3,321.3 L1337.0,326.0" fill="none" stroke="#ef9a9a" stroke-width="1.25"/>
<path d="M13,119h1V133h-1ZM11,124h5V125h-5ZM19,99h1V124h-1ZM17,115h5V124h-5ZM32,94h1V117h-1ZM30,95h5V117h-5ZM45,104h1V118h-1ZM43,105h5V114h-5ZM58,101h1V129h-1ZM56,119h5V124h-5ZM64,106h1V122h-1ZM62,112h5V120h-5ZM71,94h1V115h-1ZM69,96h5V113h-5ZM77,79h1V101h-1ZM75,83h5V97h-5ZM103,137h1V149h-1ZM101,139h5V144h-5ZM116,144h1V154h-1ZM114,150h5V151h-5ZM122,135h1V151h-1ZM120,137h5V151h-5ZM129,125h1V139h-1ZM127,126h5V138h-5ZM141,123h1V140h-1ZM139,125h5V140h-5ZM167,134h1V151h-1ZM165,135h5V145h-5ZM180,129h1V144h-1ZM178,134h5V144h-5ZM186,123h1V137h-1ZM184,126h5V135h-5ZM212,132h1V146h-1ZM210,135h5V138h-5ZM225,124h1V139h-1ZM223,130h5V139h-5ZM238,139h1V163h-1ZM236,144h5V147h-5ZM244,119h1V145h-1ZM242,120h5V145h-5ZM276,135h1V158h-1ZM274,135h5V156h-5ZM296,149h1V161h-1ZM294,152h5V155h-5ZM302,123h1V153h-1ZM300,123h5V153h-5ZM321,152h1V177h-1ZM319,160h5V167h-5ZM341,178h1V197h-1ZM339,178h5V195h-5ZM360,180h1V192h-1ZM358,180h5V185h-5ZM373,173h1V195h-1ZM371,173h5V186h-5ZM379,156h1V174h-1ZM377,159h5V174h-5ZM392,152h1V166h-1ZM390,161h5V166h-5ZM405,152h1V174h-1ZM403,158h5V173h-5ZM418,155h1V165h-1ZM416,163h5V164h-5ZM437,175h1V183h-1ZM435,180h5V183h-5ZM450,173h1V184h-1ZM448,182h5V183h-5ZM463,182h1V191h-1ZM461,184h5V188h-5ZM469,170h1V184h-1ZM467,176h5V184h-5ZM488,178h1V193h-1ZM486,180h5V190h-5ZM527,224h1V236h-1ZM525,226h5V232h-5ZM540,197h1V231h-1ZM538,220h5V231h-5ZM553,206h1V226h-1ZM551,206h5V224h-5ZM559,197h1V214h-1ZM557,200h5V207h-5ZM578,183h1V207h-1ZM576,185h5V205h-5ZM591,199h1V209h-1ZM589,199h5V202h-5ZM611,195h1V214h-1ZM609,204h5V214h-5ZM643,211h1V226h-1ZM641,219h5V226h-5ZM681,234h1V247h-1ZM679,237h5V246h-5ZM701,225h1V251h-1ZM699,231h5V251h-5ZM707,206h1V232h-1ZM705,223h5V232h-5ZM720,221h1V232h-1ZM718,223h5V230h-5ZM733,211h1V226h-1ZM731,215h5V224h-5ZM752,223h1V238h-1ZM750,224h5V238h-5ZM784,250h1V260h-1ZM782,251h5V259h-5ZM797,247h1V258h-1ZM795,253h5V254h-5ZM816,255h1V269h-1ZM814,259h5V260h-5ZM823,244h1V260h-1ZM821,245h5V260h-5ZM829,218h1V248h-1ZM827,219h5V245h-5ZM836,209h1V225h-1ZM834,213h5V220h-5ZM842,196h1V213h-1ZM840,206h5V213h-5ZM855,255h1V285h-1ZM853,257h5V260h-5ZM861,239h1V267h-1ZM859,251h5V258h-5ZM893,287h1V308h-1ZM891,298h5V307h-5ZM945,413h1V440h-1ZM943,416h5V439h-5ZM951,386h1V423h-1ZM949,387h5V417h-5ZM964,386h1V400h-1ZM962,394h5V399h-5ZM983,407h1V423h-1ZM981,407h5V420h-5ZM990,394h1V408h-1ZM988,395h5V408h-5ZM1003,392h1V401h-1ZM1001,392h5V401h-5ZM1016,380h1V404h-1ZM1014,381h5V401h-5ZM1028,373h1V384h-1ZM1026,375h5V384h-5ZM1035,368h1V381h-1ZM1033,375h5V376h-5ZM1041,362h1V377h-1ZM1039,366h5V376h-5ZM1048,348h1V367h-1ZM1046,361h5V367h-5ZM1061,349h1V365h-1ZM1059,356h5V363h-5ZM1067,343h1V357h-1ZM1065,346h5V357h-5ZM1073,342h1V354h-1ZM1071,345h5V347h-5ZM1086,326h1V351h-1ZM1084,326h5V350h-5ZM1093,311h1V327h-1ZM1091,316h5V327h-5ZM1112,299h1V321h-1ZM1110,303h5V321h-5ZM1118,298h1V309h-1ZM1116,302h5V303h-5ZM1125,285h1V307h-1ZM1123,290h5V303h-5ZM1138,285h1V303h-1ZM1136,285h5V295h-5ZM1144,253h1V287h-1ZM1142,258h5V287h-5ZM1151,226h1V259h-1ZM1149,236h5V259h-5ZM1163,223h1V246h-1ZM1161,229h5V245h-5ZM1170,220h1V237h-1ZM1168,225h5V230h-5Z" fill="#089981" shape-rendering="crispEdges"/>
<path d="M26,111h1V124h-1ZM24,115h5V116h-5ZM39,95h1V116h-1ZM37,95h5V114h-5ZM51,105h1V124h-1ZM49,105h5V124h-5ZM84,79h1V119h-1ZM82,83h5V119h-5ZM90,116h1V137h-1ZM88,118h5V131h-5ZM96,128h1V149h-1ZM94,130h5V144h-5ZM109,138h1V154h-1ZM107,139h5V151h-5ZM135,126h1V140h-1ZM133,126h5V140h-5ZM148,125h1V135h-1ZM146,125h5V133h-5ZM154,129h1V138h-1ZM152,132h5V137h-5ZM161,129h1V150h-1ZM159,137h5V144h-5ZM174,133h1V144h-1ZM172,135h5V144h-5ZM193,123h1V134h-1ZM191,126h5V130h-5ZM199,124h1V133h-1ZM197,129h5V132h-5ZM206,131h1V141h-1ZM204,131h5V138h-5ZM218,131h1V142h-1ZM216,135h5V139h-5ZM231,126h1V151h-1ZM229,130h5V147h-5ZM251,115h1V141h-1ZM249,120h5V128h-5ZM257,123h1V136h-1ZM255,127h5V128h-5ZM263,126h1V145h-1ZM261,128h5V145h-5ZM270,133h1V156h-1ZM268,144h5V156h-5ZM283,135h1V151h-1ZM281,135h5V148h-5ZM289,147h1V162h-1ZM287,147h5V155h-5ZM308,121h1V134h-1ZM306,123h5V134h-5ZM315,130h1V167h-1ZM313,133h5V167h-5ZM328,155h1V172h-1ZM326,160h5V165h-5ZM334,163h1V205h-1ZM332,163h5V195h-5ZM347,169h1V182h-1ZM345,178h5V179h-5ZM353,173h1V190h-1ZM351,178h5V185h-5ZM366,172h1V186h-1ZM364,180h5V186h-5ZM386,157h1V168h-1ZM384,159h5V166h-5ZM398,158h1V173h-1ZM396,161h5V173h-5ZM411,150h1V164h-1ZM409,158h5V164h-5ZM424,162h1V172h-1ZM422,162h5V172h-5ZM431,166h1V183h-1ZM429,171h5V183h-5ZM443,174h1V187h-1ZM441,180h5V183h-5ZM456,176h1V188h-1ZM454,181h5V188h-5ZM476,174h1V181h-1ZM474,176h5V181h-5ZM482,178h1V191h-1ZM480,180h5V190h-5ZM495,176h1V193h-1ZM493,180h5V193h-5ZM501,191h1V203h-1ZM499,192h5V202h-5ZM508,196h1V219h-1ZM506,201h5V214h-5ZM514,213h1V222h-1ZM512,213h5V222h-5ZM521,215h1V237h-1ZM519,221h5V232h-5ZM533,221h1V235h-1ZM531,226h5V231h-5ZM546,217h1V239h-1ZM544,220h5V224h-5ZM566,193h1V205h-1ZM564,200h5V205h-5ZM572,203h1V211h-1ZM570,205h5V206h-5ZM585,184h1V201h-1ZM583,185h5V201h-5ZM598,192h1V204h-1ZM596,199h5V204h-5ZM604,201h1V214h-1ZM602,203h5V214h-5ZM617,199h1V211h-1ZM615,204h5V210h-5ZM623,209h1V235h-1ZM621,209h5V220h-5ZM630,219h1V231h-1ZM628,219h5V226h-5ZM636,225h1V239h-1ZM634,225h5V226h-5ZM649,212h1V230h-1ZM647,219h5V230h-5ZM656,221h1V232h-1ZM654,229h5V232h-5ZM662,224h1V249h-1ZM660,231h5V243h-5ZM668,234h1V247h-1ZM666,242h5V244h-5ZM675,236h1V254h-1ZM673,244h5V245h-5ZM688,228h1V244h-1ZM686,237h5V243h-5ZM694,242h1V260h-1ZM692,242h5V252h-5ZM713,221h1V238h-1ZM711,223h5V230h-5ZM726,216h1V226h-1ZM724,222h5V223h-5ZM739,213h1V234h-1ZM737,215h5V234h-5ZM746,233h1V246h-1ZM744,233h5V238h-5ZM758,224h1V242h-1ZM756,224h5V235h-5ZM765,232h1V244h-1ZM763,234h5V237h-5ZM771,234h1V255h-1ZM769,236h5V248h-5ZM778,242h1V271h-1ZM776,248h5V259h-5ZM791,243h1V254h-1ZM789,251h5V254h-5ZM803,243h1V261h-1ZM801,253h5V260h-5ZM810,254h1V265h-1ZM808,259h5V260h-5ZM848,205h1V268h-1ZM846,206h5V260h-5ZM868,251h1V269h-1ZM866,251h5V257h-5ZM874,256h1V269h-1ZM872,257h5V269h-5ZM881,262h1V294h-1ZM879,268h5V290h-5ZM887,285h1V308h-1ZM885,289h5V307h-5ZM900,296h1V314h-1ZM898,298h5V305h-5ZM906,302h1V335h-1ZM904,304h5V311h-5ZM913,306h1V322h-1ZM911,310h5V314h-5ZM919,310h1V398h-1ZM917,313h5V362h-5ZM926,345h1V368h-1ZM924,362h5V365h-5ZM932,359h1V424h-1ZM930,364h5V401h-5ZM938,399h1V447h-1ZM936,400h5V439h-5ZM958,387h1V412h-1ZM956,387h5V398h-5ZM971,392h1V404h-1ZM969,394h5V395h-5ZM977,394h1V422h-1ZM975,395h5V420h-5ZM996,395h1V405h-1ZM994,395h5V401h-5ZM1009,385h1V404h-1ZM1007,392h5V401h-5ZM1022,380h1V392h-1ZM1020,381h5V384h-5ZM1054,356h1V365h-1ZM1052,361h5V362h-5ZM1080,343h1V354h-1ZM1078,344h5V350h-5ZM1099,307h1V320h-1ZM1097,316h5V320h-5ZM1106,314h1V323h-1ZM1104,319h5V321h-5ZM1131,281h1V297h-1ZM1129,290h5V295h-5ZM1157,218h1V245h-1ZM1155,236h5V245h-5ZM1176,220h1V232h-1ZM1174,225h5V226h-5Z" fill="#f23645" shape-rendering="crispEdges"/>
<path d="M13,226.5H1473" stroke="#f23645" stroke-width="1" stroke-dasharray="1 2" fill="none" shape-rendering="crispEdges"/>
</g>
<g clip-path="url(#cs)">
<rect x="13" y="539.7" width="1460" height="101.8" fill="rgba(33,150,243,0.1)"/>
<path d="M13,540.5H1473M13,641.5H1473" stroke="#787b86" stroke-width="1" stroke-dasharray="5 6" fill="none"/>
<path d="M13,590.5H1473" stroke="#787b86" stroke-opacity="0.5" stroke-width="1" stroke-dasharray="5 6" fill="none"/>
<path d="M12.0,536.6 L19.4,505.8 L25.8,506.3 L32.2,507.1 L38.6,525.5 L45.2,541.0 L51.4,579.7 L57.8,594.4 L64.2,605.5 L70.6,580.9 L76.7,553.8 L83.4,569.8 L89.8,608.0 L96.4,663.3 L103.0,671.9 L109.2,671.9 L115.3,671.4 L122.0,663.3 L128.4,642.4 L135.0,633.8 L141.9,624.0 L147.8,628.9 L154.2,625.2 L160.4,641.9 L166.8,623.5 L173.2,616.6 L179.8,582.1 L186.2,559.2 L192.9,530.0 L199.5,527.5 L205.9,564.9 L212.1,585.8 L218.2,611.2 L225.1,583.8 L231.5,610.9 L238.1,619.0 L244.5,609.7 L250.7,569.3 L257.1,541.0 L263.5,592.0 L270.4,630.6 L276.8,635.0 L282.9,625.2 L289.3,618.3 L295.7,640.7 L302.4,599.3 L308.0,570.6 L315.4,581.4 L321.6,628.9 L328.0,663.3 L334.4,663.3 L340.5,653.5 L346.7,641.2 L353.3,630.8 L360.2,630.8 L366.6,633.8 L372.8,619.0 L379.2,594.4 L385.6,572.3 L392.0,550.1 L398.1,550.9 L405.0,530.4 L411.2,529.7 L417.8,519.4 L424.0,544.0 L430.4,579.7 L436.8,611.7 L443.2,631.3 L450.3,628.4 L456.7,646.1 L462.9,651.8 L469.5,631.3 L475.7,612.4 L481.8,617.8 L488.4,623.5 L495.3,643.1 L501.5,644.9 L507.6,672.7 L514.3,674.9 L520.7,674.9 L527.3,665.3 L533.0,659.6 L540.1,633.8 L546.5,621.5 L552.7,574.7 L559.3,544.0 L565.5,516.9 L572.1,519.4 L578.3,519.9 L585.2,526.8 L591.3,532.9 L597.9,548.9 L604.3,560.0 L611.0,566.1 L617.1,571.5 L623.8,587.5 L630.2,611.7 L636.6,649.8 L643.0,651.5 L649.6,660.1 L655.8,660.1 L662.2,673.9 L668.8,674.9 L675.5,674.9 L681.6,652.3 L688.0,635.8 L694.2,633.8 L700.8,599.3 L706.6,557.5 L713.0,515.7 L719.7,515.7 L725.8,516.2 L732.7,505.8 L738.6,530.4 L745.0,557.5 L751.7,567.4 L757.8,565.4 L764.0,562.9 L770.9,589.5 L777.5,616.6 L784.2,636.3 L790.3,644.4 L796.7,642.4 L803.3,651.8 L809.5,658.9 L816.9,666.3 L823.0,624.0 L829.2,569.8 L835.8,518.1 L842.0,505.8 L848.4,552.6 L854.5,594.4 L861.2,632.1 L867.3,631.3 L874.2,638.7 L880.1,654.7 L887.0,669.5 L893.2,669.0 L899.8,665.3 L906.2,664.6 L912.8,670.7 L919.0,673.7 L925.6,674.9 L931.8,674.9 L937.9,674.9 L944.3,658.4 L951.0,628.9 L957.6,589.5 L964.0,551.4 L970.7,535.4 L976.8,532.4 L983.5,526.8 L989.6,521.3 L996.5,508.3 L1002.7,508.3 L1009.3,512.5 L1015.5,510.0 L1021.9,510.0 L1028.0,506.5 L1034.8,506.5 L1041.5,505.2 L1073.5,505.6 L1079.7,512.0 L1086.4,512.0 L1092.6,512.0 L1099.1,508.7 L1105.5,514.1 L1112.3,514.1 L1117.8,511.4 L1124.3,505.6 L1131.3,512.0 L1138.1,512.9 L1144.3,513.0 L1150.4,506.5 L1156.6,513.8 L1163.3,517.2 L1169.5,520.0 L1176.5,516.5" fill="none" stroke="#2962ff" stroke-width="1.3" stroke-linejoin="round"/>
<path d="M12.0,560.0 L19.4,534.1 L25.8,515.7 L32.2,507.1 L38.6,514.5 L45.2,525.0 L51.4,550.1 L57.8,574.7 L64.2,593.2 L70.6,594.4 L76.7,580.9 L83.4,569.1 L90.2,578.4 L96.4,614.1 L102.6,648.6 L109.2,668.2 L115.3,671.9 L121.5,669.0 L128.4,658.4 L135.0,646.1 L141.9,632.6 L147.8,628.9 L154.2,625.9 L160.4,632.1 L166.8,630.1 L173.2,627.2 L179.8,609.2 L186.2,587.0 L192.9,557.5 L199.5,539.1 L205.2,540.8 L212.1,560.0 L218.2,587.5 L225.1,593.2 L231.5,601.8 L238.1,604.8 L244.5,613.6 L250.7,599.3 L257.1,573.0 L263.0,567.4 L270.4,587.8 L276.8,618.5 L282.9,630.1 L289.3,625.9 L295.7,628.1 L302.4,620.3 L309.0,603.0 L315.9,585.8 L322.0,593.7 L328.0,626.4 L334.4,651.5 L340.5,660.4 L346.7,653.5 L353.3,642.4 L360.2,635.0 L366.6,631.8 L372.8,628.1 L379.2,615.8 L385.6,594.4 L392.0,572.3 L398.1,557.5 L405.0,544.0 L411.2,536.6 L417.8,526.8 L424.0,531.7 L430.4,547.7 L436.8,579.7 L443.2,608.5 L450.3,624.0 L456.7,635.8 L462.9,642.4 L469.0,644.4 L475.7,632.6 L482.3,621.0 L488.0,617.8 L495.3,628.9 L501.5,636.8 L507.6,653.5 L514.3,664.6 L520.7,673.9 L527.3,671.4 L533.0,667.0 L540.1,655.9 L546.5,638.7 L552.7,610.4 L559.3,577.2 L565.5,545.2 L572.1,526.8 L578.3,518.6 L585.2,521.8 L591.3,526.8 L597.9,537.8 L604.3,548.2 L611.0,558.7 L617.1,566.1 L623.8,575.5 L630.2,590.2 L636.6,616.6 L643.0,638.2 L649.6,653.5 L655.8,657.2 L662.2,664.6 L668.8,669.5 L675.5,673.9 L681.6,666.5 L688.0,653.5 L694.2,640.0 L700.8,622.7 L706.6,596.9 L713.0,560.0 L719.7,530.4 L725.8,516.9 L732.7,512.5 L738.6,516.9 L745.0,531.7 L751.7,552.6 L757.8,563.7 L764.0,565.6 L771.4,573.5 L777.5,589.5 L784.2,615.3 L790.3,632.6 L796.7,641.2 L803.3,646.1 L809.5,651.5 L816.9,658.9 L823.0,649.8 L829.2,621.5 L835.8,574.7 L842.0,531.7 L848.4,525.0 L854.5,552.6 L861.2,592.0 L867.3,619.0 L874.2,633.8 L880.1,641.7 L887.0,654.7 L893.2,664.6 L899.8,667.8 L906.2,666.3 L912.8,666.3 L919.0,669.5 L925.6,672.7 L931.8,674.4 L937.9,674.9 L944.3,669.5 L951.0,653.5 L957.6,625.2 L964.0,589.5 L970.7,557.5 L976.8,539.1 L983.5,530.4 L989.6,525.0 L996.5,518.6 L1002.7,512.7 L1009.3,509.5 L1015.5,509.5 L1021.9,510.8 L1028.0,508.9 L1034.8,507.7 L1041.5,506.5 L1048.3,506.1 L1073.5,505.6 L1079.7,507.9 L1086.4,509.9 L1092.6,512.0 L1099.1,511.0 L1105.5,511.4 L1112.3,512.2 L1117.8,513.2 L1124.3,510.5 L1131.3,509.5 L1138.1,510.5 L1144.3,512.6 L1150.4,510.8 L1156.6,511.1 L1163.3,512.4 L1169.5,517.2 L1176.5,517.9" fill="none" stroke="#ff6d00" stroke-width="1.3" stroke-linejoin="round"/>
</g>
<g font-family="'Liberation Sans', sans-serif"><text x="12.9" y="24.9" font-size="15.2" fill="#222" stroke="#222" stroke-width="0.3" textLength="510.4" lengthAdjust="spacingAndGlyphs">ParshwaTurakhiya28 published on TradingView.com, Jun 06, 2025 15:26 UTC</text><text x="23.4" y="58.7" font-size="14" fill="#131722" stroke="#131722" stroke-width="0.3" textLength="18.4" lengthAdjust="spacingAndGlyphs">Sui</text><text x="47.3" y="58.7" font-size="14" fill="#131722" stroke="#131722" stroke-width="0.3">·</text><text x="58.1" y="58.7" font-size="14" fill="#131722" stroke="#131722" stroke-width="0.3" textLength="13.9" lengthAdjust="spacingAndGlyphs">30</text><text x="78.0" y="58.7" font-size="14" fill="#131722" stroke="#131722" stroke-width="0.3">·</text><text x="87.9" y="58.7" font-size="14" fill="#131722" stroke="#131722" stroke-width="0.3" textLength="50.7" lengthAdjust="spacingAndGlyphs">CRYPTO</text><text x="148.4" y="58.7" font-size="14" fill="#131722" stroke="#131722" stroke-width="0.3" textLength="9.6" lengthAdjust="spacingAndGlyphs">O</text><text x="159.0" y="58.7" font-size="14" fill="#f23645" stroke="#f23645" stroke-width="0.3" textLength="43.6" lengthAdjust="spacingAndGlyphs">3.1908</text><text x="212.8" y="58.7" font-size="14" fill="#131722" stroke="#131722" stroke-width="0.3" textLength="9.2" lengthAdjust="spacingAndGlyphs">H</text><text x="223.0" y="58.7" font-size="14" fill="#f23645" stroke="#f23645" stroke-width="0.3" textLength="43.6" lengthAdjust="spacingAndGlyphs">3.1981</text><text x="276.2" y="58.7" font-size="14" fill="#131722" stroke="#131722" stroke-width="0.3" textLength="6.8" lengthAdjust="spacingAndGlyphs">L</text><text x="283.8" y="58.7" font-size="14" fill="#f23645" stroke="#f23645" stroke-width="0.3" textLength="44.0" lengthAdjust="spacingAndGlyphs">3.1806</text><text x="337.0" y="58.7" font-size="14" fill="#131722" stroke="#131722" stroke-width="0.3" textLength="9.2" lengthAdjust="spacingAndGlyphs">C</text><text x="346.9" y="58.7" font-size="14" fill="#f23645" stroke="#f23645" stroke-width="0.3" textLength="44.0" lengthAdjust="spacingAndGlyphs">3.1892</text><text x="401.0" y="58.7" font-size="14" fill="#f23645" stroke="#f23645" stroke-width="0.3" textLength="113.0" lengthAdjust="spacingAndGlyphs">−0.0016 (−0.05%)</text><text x="23.4" y="79.9" font-size="14" fill="#131722" stroke="#131722" stroke-width="0.3" textLength="160.0" lengthAdjust="spacingAndGlyphs">Ichimoku (9, 26, 52, 26)</text><text x="193.7" y="79.9" font-size="14" fill="#2962ff" stroke="#2962ff" stroke-width="0.3" textLength="43.6" lengthAdjust="spacingAndGlyphs">3.1395</text><text x="247.7" y="79.9" font-size="14" fill="#b71c1c" stroke="#b71c1c" stroke-width="0.3" textLength="43.6" lengthAdjust="spacingAndGlyphs">3.0728</text><text x="301.5" y="79.9" font-size="14" fill="#43a047" stroke="#43a047" stroke-width="0.3" textLength="43.6" lengthAdjust="spacingAndGlyphs">3.1892</text><text x="355.0" y="79.9" font-size="14" fill="#a5d6a7" stroke="#a5d6a7" stroke-width="0.3" textLength="43.2" lengthAdjust="spacingAndGlyphs">3.1061</text><text x="408.7" y="79.9" font-size="14" fill="#ef9a9a" stroke="#ef9a9a" stroke-width="0.3" textLength="44.4" lengthAdjust="spacingAndGlyphs">3.0516</text><text x="23.6" y="510.0" font-size="14" fill="#131722" stroke="#131722" stroke-width="0.3" textLength="197.6" lengthAdjust="spacingAndGlyphs">Stoch RSI (3, 3, 14, 14, close)</text><text x="231.0" y="510.0" font-size="14" fill="#2962ff" stroke="#2962ff" stroke-width="0.3" textLength="36.4" lengthAdjust="spacingAndGlyphs">93.60</text><text x="276.5" y="510.0" font-size="14" fill="#ff6d00" stroke="#ff6d00" stroke-width="0.3" textLength="36.2" lengthAdjust="spacingAndGlyphs">92.83</text><text x="58.3" y="715.9" font-size="14" fill="#131722" stroke="#131722" stroke-width="0.3" font-weight="bold" text-anchor="middle">3</text><text x="115.9" y="715.9" font-size="14" fill="#131722" stroke="#131722" stroke-width="0.3" textLength="37.2" lengthAdjust="spacingAndGlyphs">06:00</text><text x="193.1" y="715.9" font-size="14" fill="#131722" stroke="#131722" stroke-width="0.3" textLength="37.2" lengthAdjust="spacingAndGlyphs">12:00</text><text x="270.2" y="715.9" font-size="14" fill="#131722" stroke="#131722" stroke-width="0.3" textLength="37.2" lengthAdjust="spacingAndGlyphs">18:00</text><text x="366.8" y="715.9" font-size="14" fill="#131722" stroke="#131722" stroke-width="0.3" font-weight="bold" text-anchor="middle">4</text><text x="424.5" y="715.9" font-size="14" fill="#131722" stroke="#131722" stroke-width="0.3" textLength="37.2" lengthAdjust="spacingAndGlyphs">06:00</text><text x="501.6" y="715.9" font-size="14" fill="#131722" stroke="#131722" stroke-width="0.3" textLength="37.2" lengthAdjust="spacingAndGlyphs">12:00</text><text x="578.8" y="715.9" font-size="14" fill="#131722" stroke="#131722" stroke-width="0.3" textLength="37.2" lengthAdjust="spacingAndGlyphs">18:00</text><text x="675.4" y="715.9" font-size="14" fill="#131722" stroke="#131722" stroke-width="0.3" font-weight="bold" text-anchor="middle">5</text><text x="733.0" y="715.9" font-size="14" fill="#131722" stroke="#131722" stroke-width="0.3" textLength="37.2" lengthAdjust="spacingAndGlyphs">06:00</text><text x="810.2" y="715.9" font-size="14" fill="#131722" stroke="#131722" stroke-width="0.3" textLength="37.2" lengthAdjust="spacingAndGlyphs">12:00</text><text x="887.3" y="715.9" font-size="14" fill="#131722" stroke="#131722" stroke-width="0.3" textLength="37.2" lengthAdjust="spacingAndGlyphs">18:00</text><text x="983.9" y="715.9" font-size="14" fill="#131722" stroke="#131722" stroke-width="0.3" font-weight="bold" text-anchor="middle">6</text><text x="1041.6" y="715.9" font-size="14" fill="#131722" stroke="#131722" stroke-width="0.3" textLength="37.2" lengthAdjust="spacingAndGlyphs">06:00</text><text x="1118.7" y="715.9" font-size="14" fill="#131722" stroke="#131722" stroke-width="0.3" textLength="37.2" lengthAdjust="spacingAndGlyphs">12:00</text><text x="1195.8" y="715.9" font-size="14" fill="#131722" stroke="#131722" stroke-width="0.3" textLength="37.2" lengthAdjust="spacingAndGlyphs">18:00</text><text x="1292.5" y="715.9" font-size="14" fill="#131722" stroke="#131722" stroke-width="0.3" font-weight="bold" text-anchor="middle">7</text><text x="1350.1" y="715.9" font-size="14" fill="#131722" stroke="#131722" stroke-width="0.3" textLength="37.2" lengthAdjust="spacingAndGlyphs">06:00</text><text x="1427.2" y="715.9" font-size="14" fill="#131722" stroke="#131722" stroke-width="0.3" textLength="37.2" lengthAdjust="spacingAndGlyphs">12:00</text><text x="1484.6" y="78.9" font-size="14" fill="#131722" stroke="#131722" stroke-width="0.3" textLength="44.5" lengthAdjust="spacingAndGlyphs">3.4000</text><text x="1484.6" y="151.4" font-size="14" fill="#131722" stroke="#131722" stroke-width="0.3" textLength="44.5" lengthAdjust="spacingAndGlyphs">3.3000</text><text x="1484.6" y="368.8" font-size="14" fill="#131722" stroke="#131722" stroke-width="0.3" textLength="44.5" lengthAdjust="spacingAndGlyphs">3.0000</text><text x="1484.6" y="441.2" font-size="14" fill="#131722" stroke="#131722" stroke-width="0.3" textLength="44.5" lengthAdjust="spacingAndGlyphs">2.9000</text><text x="1484.3" y="510.3" font-size="14" fill="#131722" stroke="#131722" stroke-width="0.3" textLength="45.4" lengthAdjust="spacingAndGlyphs">100.00</text><text x="1484.3" y="553.4" font-size="14" fill="#131722" stroke="#131722" stroke-width="0.3" textLength="37.2" lengthAdjust="spacingAndGlyphs">75.00</text><text x="1484.3" y="595.6" font-size="14" fill="#131722" stroke="#131722" stroke-width="0.3" textLength="37.0" lengthAdjust="spacingAndGlyphs">50.00</text><text x="1484.3" y="637.8" font-size="14" fill="#131722" stroke="#131722" stroke-width="0.3" textLength="37.0" lengthAdjust="spacingAndGlyphs">25.00</text><text x="1484.3" y="680.0" font-size="14" fill="#131722" stroke="#131722" stroke-width="0.3" textLength="29.2" lengthAdjust="spacingAndGlyphs">0.00</text></g>
<rect x="1474" y="35" width="65" height="40.8" fill="#fff"/>
<rect x="1478.5" y="39.5" width="58" height="31" rx="5" fill="#fff" stroke="#ececec" stroke-width="1.2"/>
<g font-family="'Liberation Sans', sans-serif"><text x="1489.7" y="60.0" font-size="14" fill="#131722" stroke="#131722" stroke-width="0.3" textLength="25.6" lengthAdjust="spacingAndGlyphs">USD</text></g>
<rect x="1474.0" y="195.2" width="54.0" height="20.5" rx="1.6" fill="#f23645"/><g font-family="'Liberation Sans', sans-serif"><text x="1485.5" y="210.8" font-size="14" fill="#ffd9dc" stroke="#ffd9dc" stroke-width="0.3" textLength="36.0" lengthAdjust="spacingAndGlyphs">03:18</text></g>
<rect x="1474.0" y="215.7" width="62.0" height="21.0" rx="1.6" fill="#43a047"/><g font-family="'Liberation Sans', sans-serif"><text x="1485.0" y="231.5" font-size="14" fill="#fff" stroke="#fff" stroke-width="0.3" textLength="44.5" lengthAdjust="spacingAndGlyphs">3.1892</text></g>
<rect x="1474.0" y="252.3" width="62.0" height="20.3" rx="1.6" fill="#2962ff"/><g font-family="'Liberation Sans', sans-serif"><text x="1485.0" y="267.8" font-size="14" fill="#fff" stroke="#fff" stroke-width="0.3" textLength="44.5" lengthAdjust="spacingAndGlyphs">3.1395</text></g>
<rect x="1474.0" y="277.5" width="62.0" height="20.3" rx="1.6" fill="#a5d6a7"/><g font-family="'Liberation Sans', sans-serif"><text x="1485.0" y="292.9" font-size="14" fill="#131722" stroke="#131722" stroke-width="0.3" textLength="44.5" lengthAdjust="spacingAndGlyphs">3.1061</text></g>
<rect x="1474.0" y="301.3" width="62.0" height="20.3" rx="1.6" fill="#b71c1c"/><g font-family="'Liberation Sans', sans-serif"><text x="1485.0" y="316.8" font-size="14" fill="#fff" stroke="#fff" stroke-width="0.3" textLength="44.5" lengthAdjust="spacingAndGlyphs">3.0728</text></g>
<rect x="1474.0" y="322.7" width="62.0" height="20.1" rx="1.6" fill="#ef9a9a"/><g font-family="'Liberation Sans', sans-serif"><text x="1485.0" y="338.1" font-size="14" fill="#131722" stroke="#131722" stroke-width="0.3" textLength="44.5" lengthAdjust="spacingAndGlyphs">3.0516</text></g>
<rect x="1474.0" y="507.1" width="54.0" height="20.7" rx="1.6" fill="#2962ff"/><g font-family="'Liberation Sans', sans-serif"><text x="1484.5" y="522.8" font-size="14" fill="#fff" stroke="#fff" stroke-width="0.3" textLength="37.5" lengthAdjust="spacingAndGlyphs">93.60</text></g>
<rect x="1474.0" y="527.8" width="54.0" height="21.0" rx="1.6" fill="#ff6d00"/><g font-family="'Liberation Sans', sans-serif"><text x="1484.5" y="543.6" font-size="14" fill="#fff" stroke="#fff" stroke-width="0.3" textLength="37.5" lengthAdjust="spacingAndGlyphs">92.83</text></g>
<g fill="#111"><path d="M13.05,743.8H22.8V755.8H17.9V748.6H13.05Z"/><circle cx="26.9" cy="746.4" r="2.7"/><path d="M32.1,743.8H37.5L32.5,755.8H27Z"/></g>
<g font-family="'Liberation Sans', sans-serif"><text x="41.9" y="755.8" font-size="15.3" fill="#111" stroke="#111" stroke-width="0.3" textLength="87.7" lengthAdjust="spacingAndGlyphs">TradingView</text></g>
</svg>
</body></html>
